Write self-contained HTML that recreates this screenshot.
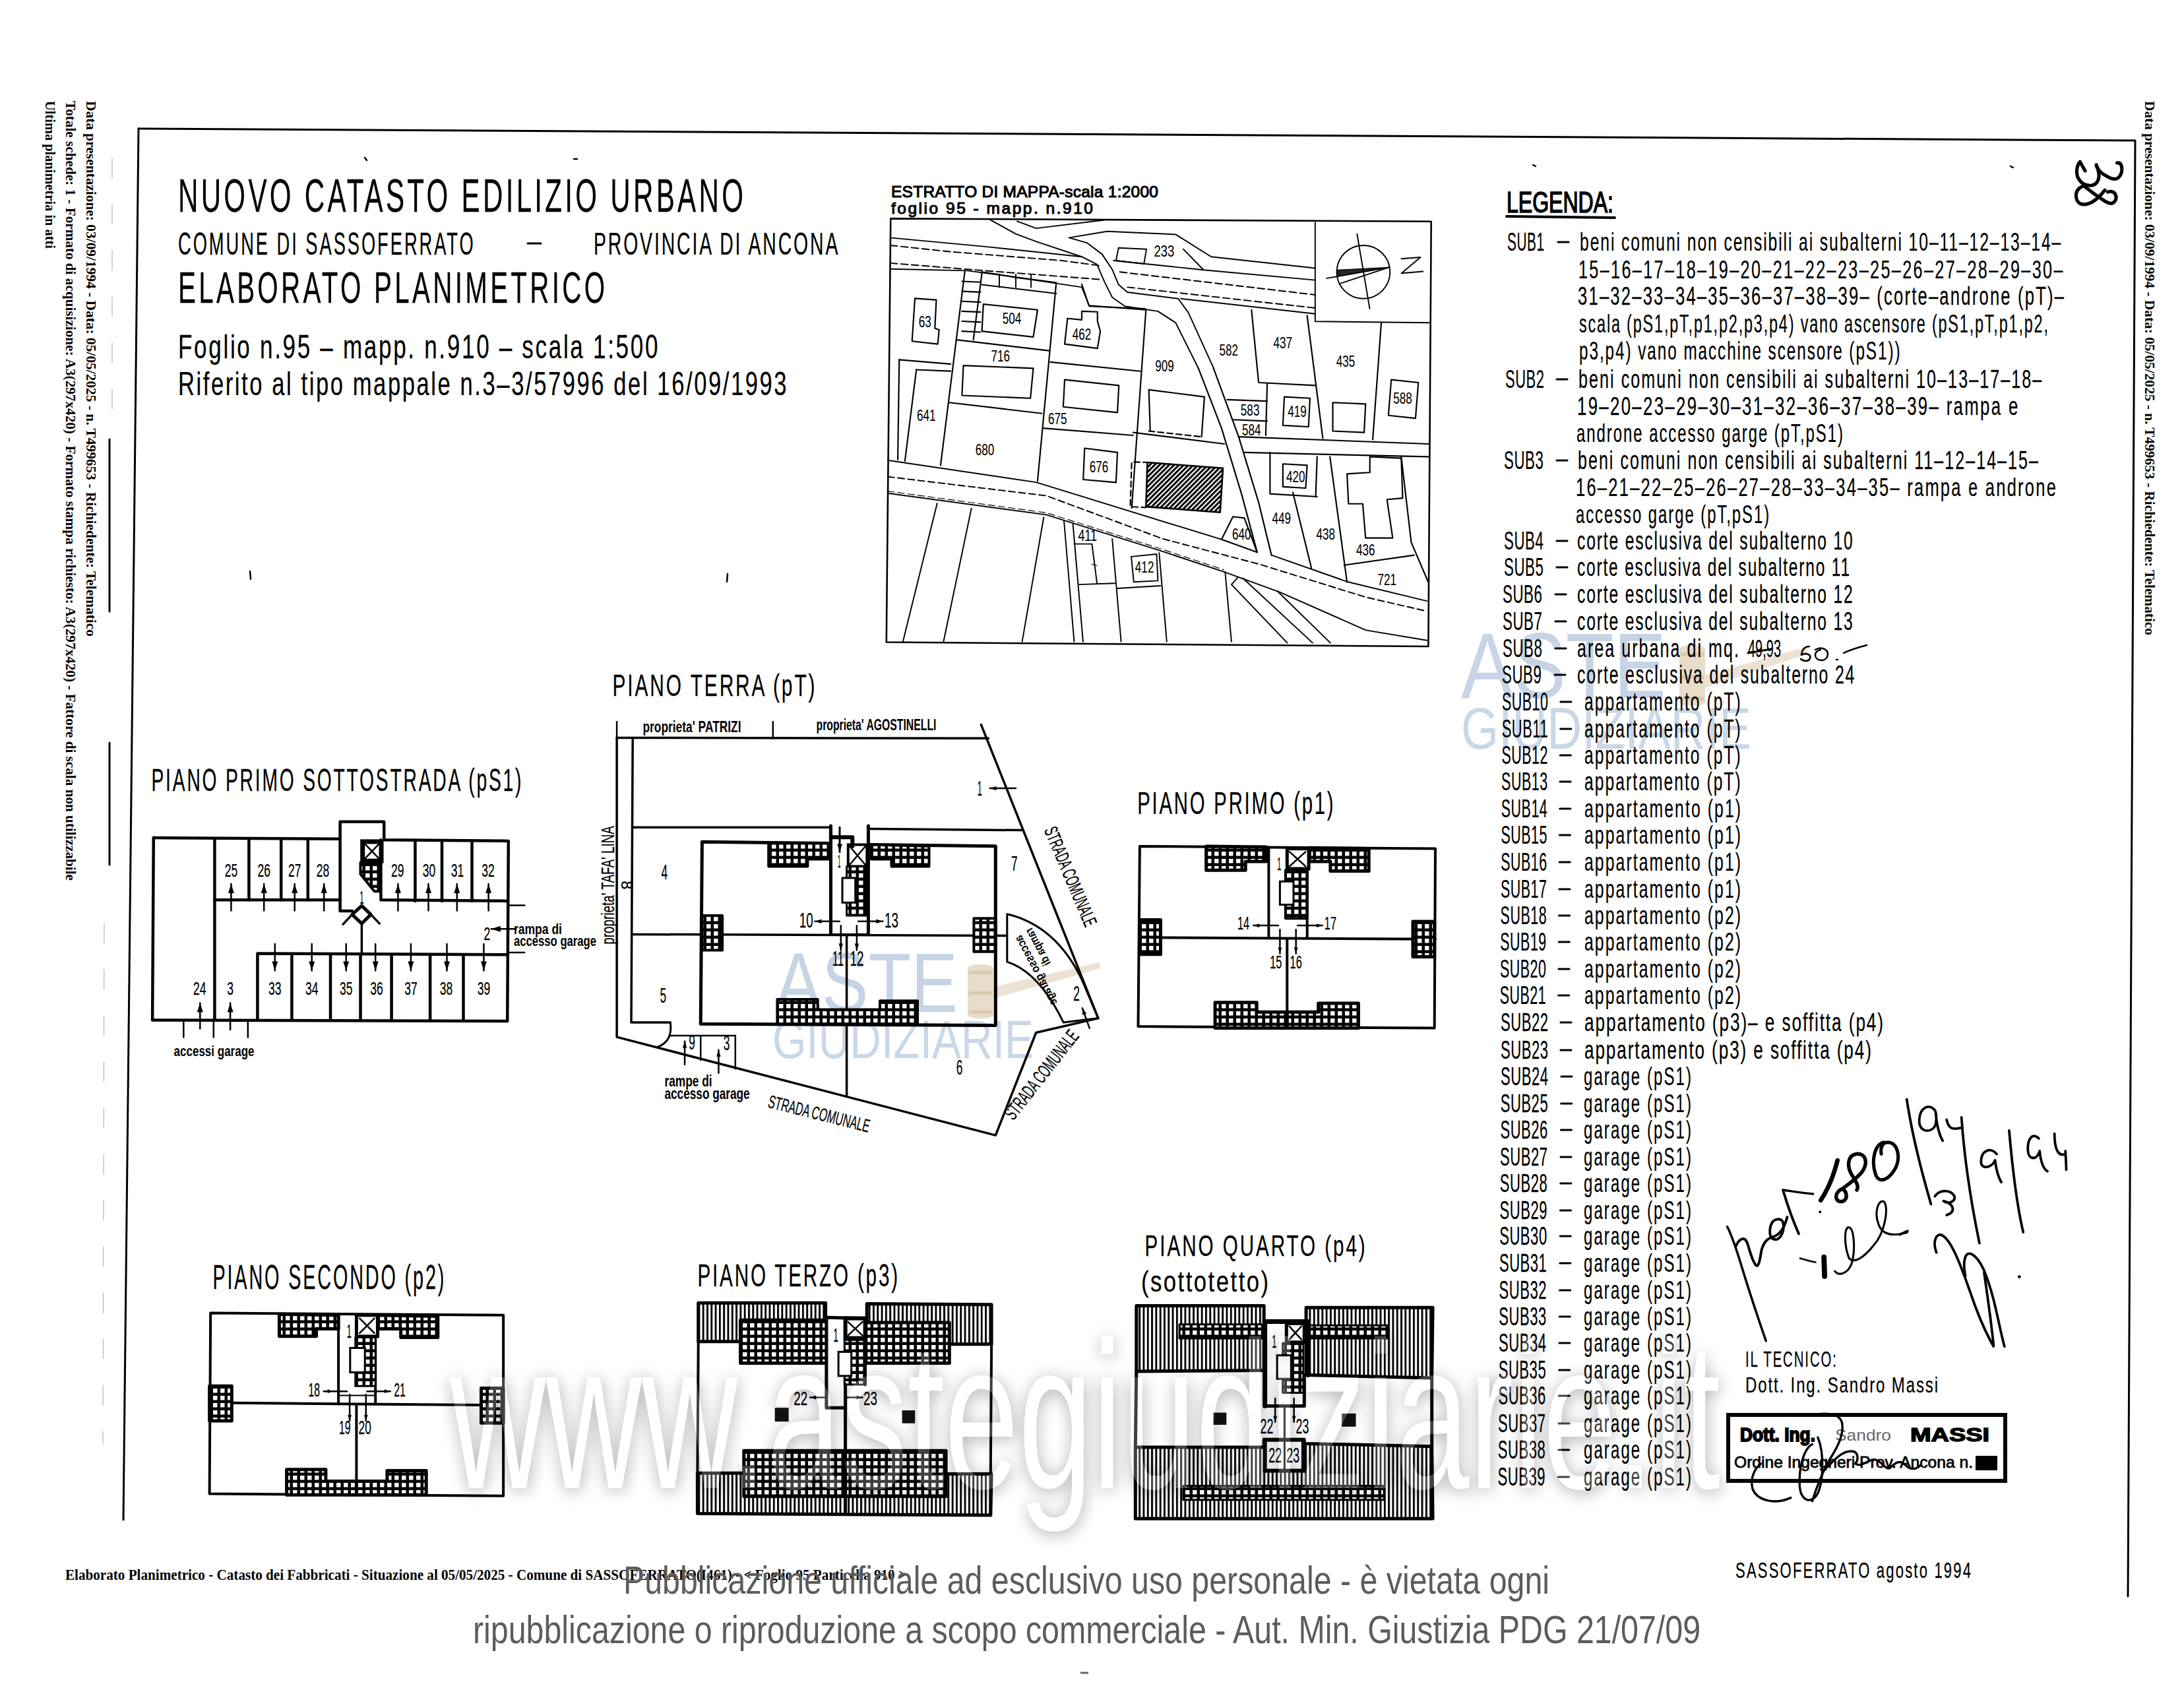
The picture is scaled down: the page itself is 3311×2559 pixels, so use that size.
<!DOCTYPE html>
<html><head><meta charset="utf-8"><title>Elaborato Planimetrico</title>
<style>
    html,body{margin:0;padding:0;background:#fff;overflow:hidden;}
    svg{display:block;}
    .c{font-family:"Liberation Sans",sans-serif;fill:#000;stroke:#000;stroke-width:0.25px;}
    .sr{font-family:"Liberation Serif",serif;fill:#000;font-weight:bold;}
    .sb{font-family:"Liberation Serif",serif;fill:#000;font-weight:bold;}
    .sbs{font-family:"Liberation Sans",sans-serif;fill:#000;font-weight:bold;}
    .c2{font-family:"Liberation Sans",sans-serif;fill:#000;}
    .cb{font-family:"Liberation Sans",sans-serif;fill:#000;font-weight:bold;}
    .gs{font-family:"Liberation Sans",sans-serif;fill:#666;}
    .cs{font-family:"Liberation Sans",sans-serif;fill:#000;stroke:#000;stroke-width:0.8px;}
    .g{font-family:"Liberation Sans",sans-serif;fill:#5c5c5c;}
    .ln{fill:none;stroke:#000;stroke-linecap:round;stroke-linejoin:round;}
    </style></head>
<body>
<svg width="3311" height="2559" viewBox="0 0 3311 2559">
<rect width="3311" height="2559" fill="#fff"/>
<defs>
<pattern id="hatch" patternUnits="userSpaceOnUse" width="12" height="12" patternTransform="rotate(45)">
<rect width="12" height="12" fill="#fff"/><rect width="7" height="12" fill="#000"/></pattern>
<pattern id="grid" patternUnits="userSpaceOnUse" width="11" height="11">
<rect width="11" height="11" fill="#000"/><rect x="4" y="4" width="6.5" height="6.5" fill="#fff"/></pattern>
<pattern id="stripe" patternUnits="userSpaceOnUse" width="6.3" height="7">
<rect width="6.3" height="7" fill="#fff"/><rect width="2.9" height="7" fill="#000"/></pattern>
</defs>
<text x="2215" y="1058" font-size="141.1" textLength="311" lengthAdjust="spacingAndGlyphs" style="font-family:'Liberation Sans',sans-serif;fill:#bccde0;fill-opacity:0.85">ASTE</text>
<text x="2215" y="1135" font-size="89.4" textLength="440" lengthAdjust="spacingAndGlyphs" style="font-family:'Liberation Sans',sans-serif;fill:#bccde0;fill-opacity:0.8">GIUDIZIARIE</text>
<path d="M2585,1023.6 L2740,980.3 L2740,991.4 L2585,1042.9 Z" style="fill:#dcc9ad;fill-opacity:0.55"/>
<rect x="2546" y="978" width="39" height="92" rx="17.6" ry="6" style="fill:#dcc9ad;fill-opacity:0.65"/>
<rect x="2548" y="989.0" width="35" height="5.5" style="fill:#c9b08e;fill-opacity:0.45"/>
<rect x="2548" y="1024.0" width="35" height="5.5" style="fill:#c9b08e;fill-opacity:0.45"/>
<rect x="2548" y="1056.2" width="35" height="5.5" style="fill:#c9b08e;fill-opacity:0.45"/>
<text x="1175" y="1534" font-size="127.1" textLength="277" lengthAdjust="spacingAndGlyphs" style="font-family:'Liberation Sans',sans-serif;fill:#bccde0;fill-opacity:0.85">ASTE</text>
<text x="1171" y="1604" font-size="81.0" textLength="396" lengthAdjust="spacingAndGlyphs" style="font-family:'Liberation Sans',sans-serif;fill:#bccde0;fill-opacity:0.8">GIUDIZIARIE</text>
<path d="M1506,1496.3 L1667,1458.7 L1667,1468.6 L1506,1513.5 Z" style="fill:#dcc9ad;fill-opacity:0.55"/>
<rect x="1467" y="1462" width="39" height="82" rx="17.6" ry="6" style="fill:#dcc9ad;fill-opacity:0.65"/>
<rect x="1469" y="1471.8" width="35" height="4.9" style="fill:#c9b08e;fill-opacity:0.45"/>
<rect x="1469" y="1503.0" width="35" height="4.9" style="fill:#c9b08e;fill-opacity:0.45"/>
<rect x="1469" y="1531.7" width="35" height="4.9" style="fill:#c9b08e;fill-opacity:0.45"/>
<path d="M210,195 L3237,213 L3226,2420" class="ln" stroke-width="3"/>
<path d="M210,195 L187,2304" class="ln" stroke-width="3"/>
<path d="M166,666 L166,927 M166,1126 L166,1311" class="ln" stroke-width="3"/>
<path d="M170,240 L170,640 M158,1400 L156,2190" class="ln" stroke-width="1" stroke-dasharray="30 40" opacity="0.35"/>
<path d="M553,239 L556,243 M870,241 L875,241 M379,866 L380,878 M1103,870 L1102,882 M2324,250 L2328,252 M3048,252 L3052,254" class="ln" stroke-width="2.5"/>
<text class="sr" transform="translate(131,153) rotate(90)" font-size="21" textLength="812" lengthAdjust="spacingAndGlyphs">Data presentazione: 03/09/1994 - Data: 05/05/2025 - n. T499653 - Richiedente: Telematico</text>
<text class="sr" transform="translate(100,153) rotate(90)" font-size="21" textLength="1182" lengthAdjust="spacingAndGlyphs">Totale schede: 1 - Formato di acquisizione: A3(297x420) - Formato stampa richiesto: A3(297x420) - Fattore di scala non utilizzabile</text>
<text class="sr" transform="translate(69,153) rotate(90)" font-size="21" textLength="224" lengthAdjust="spacingAndGlyphs">Ultima planimetria in atti</text>
<text class="sr" transform="translate(3252,153) rotate(90)" font-size="21" textLength="810" lengthAdjust="spacingAndGlyphs">Data presentazione: 03/09/1994 - Data: 05/05/2025 - n. T499653 - Richiedente: Telematico</text>
<text class="c" transform="translate(270.0,321.0) scale(0.593,1)" x="0" y="0" font-size="71.0" textLength="1445.0" lengthAdjust="spacing">NUOVO CATASTO EDILIZIO URBANO</text>
<text class="c" transform="translate(270.0,386.0) scale(0.556,1)" x="0" y="0" font-size="49.0" textLength="805.2" lengthAdjust="spacing">COMUNE DI SASSOFERRATO</text>
<path d="M800,369 L820,369" class="ln" stroke-width="3"/>
<text class="c" transform="translate(900.0,386.0) scale(0.579,1)" x="0" y="0" font-size="49.0" textLength="639.6" lengthAdjust="spacing">PROVINCIA DI ANCONA</text>
<text class="c" transform="translate(270.0,459.0) scale(0.611,1)" x="0" y="0" font-size="66.0" textLength="1059.0" lengthAdjust="spacing">ELABORATO PLANIMETRICO</text>
<text class="c" transform="translate(270.0,543.0) scale(0.701,1)" x="0" y="0" font-size="50.0" textLength="1037.7" lengthAdjust="spacing">Foglio n.95 – mapp. n.910 – scala 1:500</text>
<text class="c" transform="translate(270.0,599.0) scale(0.691,1)" x="0" y="0" font-size="50.0" textLength="1335.1" lengthAdjust="spacing">Riferito al tipo mappale n.3–3/57996 del 16/09/1993</text>
<text class="c" style="stroke-width:1.1px" transform="translate(1351.0,299.0) scale(1.000,1)" x="0" y="0" font-size="24.5" textLength="405.0" lengthAdjust="spacing">ESTRATTO DI MAPPA-scala 1:2000</text>
<text class="c" style="stroke-width:1.1px" transform="translate(1351.0,324.0) scale(1.000,1)" x="0" y="0" font-size="24.5" textLength="306.0" lengthAdjust="spacing">foglio 95 - mapp. n.910</text>
<g transform="translate(1320,260) scale(0.432432)">
<path d="M70,165 L1965,175 L1955,1665 L55,1650Z" class="ln" stroke-width="6"/>
<path d="M330,350 L300,590 L245,1030" class="ln" stroke-width="5"/>
<path d="M390,355 L360,590" class="ln" stroke-width="5"/>
<path d="M320,385 L385,388" class="ln" stroke-width="5"/>
<path d="M320,420 L385,423" class="ln" stroke-width="5"/>
<path d="M320,455 L385,458" class="ln" stroke-width="5"/>
<path d="M320,490 L385,493" class="ln" stroke-width="5"/>
<path d="M320,525 L385,528" class="ln" stroke-width="5"/>
<path d="M320,560 L385,563" class="ln" stroke-width="5"/>
<path d="M650,395 L585,1085" class="ln" stroke-width="5"/>
<path d="M300,590 L625,628" class="ln" stroke-width="5"/>
<path d="M275,810 L600,848" class="ln" stroke-width="5"/>
<path d="M100,660 L280,675" class="ln" stroke-width="5"/>
<path d="M100,660 L95,1010" class="ln" stroke-width="5"/>
<path d="M160,695 L280,700" class="ln" stroke-width="5"/>
<path d="M160,695 L120,1015" class="ln" stroke-width="5"/>
<path d="M155,445 L230,450 L225,550 L240,555 L235,605 L145,595Z" class="ln" stroke-width="5"/>
<path d="M395,465 L585,485 L570,580 L390,560Z" class="ln" stroke-width="5"/>
<path d="M690,515 L740,520 L740,490 L795,492 L795,525 L805,560 L795,620 L680,605Z" class="ln" stroke-width="5"/>
<path d="M325,680 L570,690 L560,795 L320,785Z" class="ln" stroke-width="5"/>
<path d="M740,395 L765,470 L965,485" class="ln" stroke-width="5"/>
<path d="M965,485 L915,1180" class="ln" stroke-width="5"/>
<path d="M630,668 L945,700" class="ln" stroke-width="5"/>
<path d="M605,900 L920,925" class="ln" stroke-width="5"/>
<path d="M680,730 L870,750 L865,845 L675,825Z" class="ln" stroke-width="5"/>
<path d="M750,970 L865,985 L860,1090 L745,1080Z" class="ln" stroke-width="5"/>
<path d="M980,910 L975,765 L1170,790 L1160,930" class="ln" stroke-width="5"/>
<path d="M975,910 L1160,930" class="ln" stroke-width="5" stroke-dasharray="20 12"/>
<path d="M920,915 L1240,955" class="ln" stroke-width="5"/>
<path d="M970,1020 L1235,1040 L1225,1195 L965,1175Z" class="ln" stroke-width="6" style="fill:url(#hatch)"/>
<path d="M975,1020 L915,1018 L910,1175 L965,1178" class="ln" stroke-width="5" stroke-dasharray="20 12"/>
<path d="M1149,690 L1230,900 L1300,1130 L1355,1335" class="ln" stroke-width="5"/>
<path d="M1202,690 L1290,930 L1360,1160 L1405,1345" class="ln" stroke-width="5"/>
<path d="M1230,1290 L1270,1210 L1310,1215 L1355,1335Z" class="ln" stroke-width="5"/>
<path d="M1335,485 L1360,740 L1560,750" class="ln" stroke-width="5"/>
<path d="M1530,505 L1585,935" class="ln" stroke-width="5"/>
<path d="M1790,530 L1760,940" class="ln" stroke-width="5"/>
<path d="M1250,800 L1390,805" class="ln" stroke-width="5"/>
<path d="M1270,870 L1390,875" class="ln" stroke-width="5"/>
<path d="M1390,745 L1385,925" class="ln" stroke-width="5"/>
<path d="M1450,790 L1540,795 L1535,895 L1445,890Z" class="ln" stroke-width="5"/>
<path d="M1620,810 L1735,815 L1730,915 L1620,910Z" class="ln" stroke-width="5"/>
<path d="M1825,730 L1920,740 L1910,865 L1815,855Z" class="ln" stroke-width="5"/>
<path d="M1290,930 L1955,955" class="ln" stroke-width="5"/>
<path d="M1310,985 L1955,1000" class="ln" stroke-width="5"/>
<path d="M1400,985 L1400,1130 L1565,1140" class="ln" stroke-width="5"/>
<path d="M1565,1000 L1560,1140" class="ln" stroke-width="5"/>
<path d="M1445,1025 L1530,1030 L1525,1110 L1445,1105Z" class="ln" stroke-width="5"/>
<path d="M1480,1125 L1545,1390" class="ln" stroke-width="5"/>
<path d="M1610,1000 L1670,1440" class="ln" stroke-width="5"/>
<path d="M1860,1000 L1895,1300 L1955,1440" class="ln" stroke-width="5"/>
<path d="M1670,1060 L1750,1055 L1750,1000 L1860,1005 L1865,1145 L1810,1150 L1830,1285 L1735,1285 L1725,1165 L1675,1165Z" class="ln" stroke-width="5"/>
<path d="M1660,1380 L1905,1345" class="ln" stroke-width="5"/>
<text class="c" x="190" y="545" font-size="56" text-anchor="middle" textLength="44" lengthAdjust="spacingAndGlyphs">63</text>
<text class="c" x="495" y="535" font-size="56" text-anchor="middle" textLength="66" lengthAdjust="spacingAndGlyphs">504</text>
<text class="c" x="740" y="590" font-size="56" text-anchor="middle" textLength="66" lengthAdjust="spacingAndGlyphs">462</text>
<text class="c" x="455" y="665" font-size="56" text-anchor="middle" textLength="66" lengthAdjust="spacingAndGlyphs">716</text>
<text class="c" x="195" y="875" font-size="56" text-anchor="middle" textLength="66" lengthAdjust="spacingAndGlyphs">641</text>
<text class="c" x="400" y="995" font-size="56" text-anchor="middle" textLength="66" lengthAdjust="spacingAndGlyphs">680</text>
<text class="c" x="655" y="885" font-size="56" text-anchor="middle" textLength="66" lengthAdjust="spacingAndGlyphs">675</text>
<text class="c" x="800" y="1055" font-size="56" text-anchor="middle" textLength="66" lengthAdjust="spacingAndGlyphs">676</text>
<text class="c" x="1030" y="700" font-size="56" text-anchor="middle" textLength="66" lengthAdjust="spacingAndGlyphs">909</text>
<text class="c" x="1255" y="645" font-size="56" text-anchor="middle" textLength="66" lengthAdjust="spacingAndGlyphs">582</text>
<text class="c" x="1445" y="620" font-size="56" text-anchor="middle" textLength="66" lengthAdjust="spacingAndGlyphs">437</text>
<text class="c" x="1665" y="685" font-size="56" text-anchor="middle" textLength="66" lengthAdjust="spacingAndGlyphs">435</text>
<text class="c" x="1330" y="855" font-size="56" text-anchor="middle" textLength="66" lengthAdjust="spacingAndGlyphs">583</text>
<text class="c" x="1335" y="925" font-size="56" text-anchor="middle" textLength="66" lengthAdjust="spacingAndGlyphs">584</text>
<text class="c" x="1495" y="860" font-size="56" text-anchor="middle" textLength="66" lengthAdjust="spacingAndGlyphs">419</text>
<text class="c" x="1865" y="815" font-size="56" text-anchor="middle" textLength="66" lengthAdjust="spacingAndGlyphs">588</text>
<text class="c" x="1490" y="1090" font-size="56" text-anchor="middle" textLength="66" lengthAdjust="spacingAndGlyphs">420</text>
<text class="c" x="1440" y="1235" font-size="56" text-anchor="middle" textLength="66" lengthAdjust="spacingAndGlyphs">449</text>
<text class="c" x="1595" y="1290" font-size="56" text-anchor="middle" textLength="66" lengthAdjust="spacingAndGlyphs">438</text>
<text class="c" x="1735" y="1345" font-size="56" text-anchor="middle" textLength="66" lengthAdjust="spacingAndGlyphs">436</text>
<text class="c" x="1810" y="1450" font-size="56" text-anchor="middle" textLength="66" lengthAdjust="spacingAndGlyphs">721</text>
<text class="c" x="1300" y="1290" font-size="56" text-anchor="middle" textLength="66" lengthAdjust="spacingAndGlyphs">640</text>
<text class="c" x="760" y="1295" font-size="56" text-anchor="middle" textLength="66" lengthAdjust="spacingAndGlyphs">411</text>
<text class="c" x="960" y="1405" font-size="56" text-anchor="middle" textLength="66" lengthAdjust="spacingAndGlyphs">412</text>
</g>
<g transform="translate(1340,320) scale(0.384615)">
<path d="M25,105 L400,140 L780,180" class="ln" stroke-width="5"/>
<path d="M420,35 L520,90 L600,120 L780,180 L840,210 L870,280 L900,340 L950,375 L1080,395 L1150,440 L1240,620" class="ln" stroke-width="5"/>
<path d="M525,40 L600,68 L870,35" class="ln" stroke-width="5"/>
<path d="M730,105 L880,80 L1150,92 L1290,180 L1700,225" class="ln" stroke-width="5"/>
<path d="M730,105 L800,125 L860,170 L900,230 L925,290 L960,320 L1160,345 L1200,400 L1300,620" class="ln" stroke-width="5"/>
<path d="M905,195 L1260,232 L1700,272" class="ln" stroke-width="5"/>
<path d="M1180,150 L1260,232" class="ln" stroke-width="5"/>
<path d="M25,135 L260,160 L700,195 L850,215" class="ln" stroke-width="5" stroke-dasharray="28 14"/>
<path d="M930,240 L1700,330" class="ln" stroke-width="5" stroke-dasharray="28 14"/>
<path d="M25,205 L400,235 L860,270" class="ln" stroke-width="5" stroke-dasharray="28 14"/>
<path d="M960,300 L1700,382" class="ln" stroke-width="5" stroke-dasharray="28 14"/>
<path d="M25,228 L330,235 L680,282" class="ln" stroke-width="5"/>
<path d="M1170,345 L1700,405" class="ln" stroke-width="5"/>
<path d="M385,240 L455,250 L520,262 L580,270 L680,285" class="ln" stroke-width="5"/>
<path d="M385,290 L680,325" class="ln" stroke-width="5"/>
<path d="M455,250 L455,300" class="ln" stroke-width="5"/>
<path d="M520,250 L520,300" class="ln" stroke-width="5"/>
<path d="M580,250 L580,300" class="ln" stroke-width="5"/>
<path d="M680,285 L780,300 L810,375 L1030,385" class="ln" stroke-width="5"/>
<path d="M925,145 L1035,150 L1025,208 L915,195Z" class="ln" stroke-width="5"/>
<text class="c" x="1105" y="180" font-size="60" text-anchor="middle" textLength="80" lengthAdjust="spacingAndGlyphs">233</text>
<path d="M1700,45 L1700,435 L2150,440" class="ln" stroke-width="5"/>
<circle cx="1890" cy="240" r="105" class="ln" stroke-width="5"/>
<path d="M1865,90 L1915,385" class="ln" stroke-width="5"/>
<path d="M1745,265 L1990,222" class="ln" stroke-width="5"/>
<path d="M1800,285 L1990,222" class="ln" stroke-width="5"/>
<path d="M1785,232 L1990,222 L1785,258Z" class="ln" stroke-width="3" style="fill:#000;fill-opacity:0.85"/>
<path d="M2040,188 L2115,182 L2040,245 L2125,238" class="ln" stroke-width="5"/>
</g>
<g transform="translate(1340,640) scale(0.384615)">
<path d="M15,150 L600,237 L1330,462" class="ln" stroke-width="5"/>
<path d="M1530,525 L1830,630 L2140,705" class="ln" stroke-width="5"/>
<path d="M15,215 L640,290 L1100,460 L1480,560 L1900,690 L2140,745" class="ln" stroke-width="5" stroke-dasharray="26 14"/>
<path d="M15,280 L640,365 L1100,510 L1340,590 L1560,670 L1900,820 L2140,860" class="ln" stroke-width="5"/>
<path d="M15,272 L640,357 L1100,502 L1340,582" class="ln" stroke-width="3" stroke-dasharray="26 14"/>
<path d="M1370,640 L1590,870" class="ln" stroke-width="5"/>
<path d="M1415,615 L1690,870" class="ln" stroke-width="5"/>
<path d="M1550,665 L1760,870" class="ln" stroke-width="5"/>
<path d="M1370,640 L1395,612" class="ln" stroke-width="5"/>
<path d="M210,320 L75,865" class="ln" stroke-width="5"/>
<path d="M345,340 L235,865" class="ln" stroke-width="5"/>
<path d="M630,375 L545,865" class="ln" stroke-width="5"/>
<path d="M710,390 L750,865" class="ln" stroke-width="5"/>
<path d="M745,400 L785,865" class="ln" stroke-width="5"/>
<path d="M900,460 L935,865" class="ln" stroke-width="5"/>
<path d="M1085,515 L1115,865" class="ln" stroke-width="5"/>
<path d="M1345,590 L1370,865" class="ln" stroke-width="5"/>
<path d="M750,480 L820,480 L840,635" class="ln" stroke-width="5"/>
<path d="M770,640 L910,635" class="ln" stroke-width="5"/>
<path d="M920,655 L1090,645" class="ln" stroke-width="5"/>
<path d="M975,530 L1075,520 L1080,625 L985,630Z" class="ln" stroke-width="5"/>
<path d="M820,560 L840,565" class="ln" stroke-width="3"/>
</g>
<text class="c" transform="translate(229.5,1198.5) scale(0.591,1)" x="0" y="0" font-size="47.7" textLength="949.2" lengthAdjust="spacing">PIANO PRIMO SOTTOSTRADA (pS1)</text>
<path d="M232.8,1270.0 L515.6,1271.7" class="ln" stroke-width="4.5"/>
<path d="M533.8,1380.9 L515.6,1380.9 L515.6,1245.7 L582.2,1245.7 L582.2,1273.3 L770.8,1274.9 L769.2,1548.0 L231.1,1546.4 L232.8,1270.0" class="ln" stroke-width="4.5"/>
<path d="M325.4,1271.7 L325.4,1546.4" class="ln" stroke-width="4.5"/>
<path d="M325.4,1364.3 L515.6,1364.3" class="ln" stroke-width="4.5"/>
<path d="M377.4,1271.7 L377.4,1364.3" class="ln" stroke-width="4.5"/>
<path d="M426.2,1271.7 L426.2,1364.3" class="ln" stroke-width="4.5"/>
<path d="M466.8,1271.7 L466.8,1364.3" class="ln" stroke-width="4.5"/>
<path d="M577.4,1273.3 L577.4,1364.3 L769.2,1365.9" class="ln" stroke-width="4.5"/>
<path d="M629.4,1274.9 L629.4,1365.9" class="ln" stroke-width="4.5"/>
<path d="M670.0,1274.9 L670.0,1365.9" class="ln" stroke-width="4.5"/>
<path d="M715.5,1274.9 L715.5,1365.9" class="ln" stroke-width="4.5"/>
<path d="M390.4,1546.4 L390.4,1445.6 L769.2,1447.2" class="ln" stroke-width="4.5"/>
<path d="M442.4,1447.2 L442.4,1546.4" class="ln" stroke-width="4.5"/>
<path d="M501.0,1447.2 L501.0,1546.4" class="ln" stroke-width="4.5"/>
<path d="M546.5,1447.2 L546.5,1546.4" class="ln" stroke-width="4.5"/>
<path d="M593.6,1447.2 L593.6,1546.4" class="ln" stroke-width="4.5"/>
<path d="M652.1,1447.2 L652.1,1546.4" class="ln" stroke-width="4.5"/>
<path d="M702.5,1447.2 L702.5,1546.4" class="ln" stroke-width="4.5"/>
<path d="M548.4,1400.1 L548.4,1445.6" class="ln" stroke-width="3.5"/>
<rect x="549.7" y="1275.9" width="28.3" height="29.3" style="fill:#fff" stroke="#000" stroke-width="7"/>
<path d="M553.0,1279.1 L574.8,1301.9" class="ln" stroke-width="2.5"/>
<path d="M574.8,1279.1 L553.0,1301.9" class="ln" stroke-width="2.5"/>
<path d="M546.5,1307.4 L575.7,1307.4 L575.7,1351.3 L567.6,1351.3 L546.5,1325.3Z" style="fill:url(#grid)" stroke="#000" stroke-width="4" stroke-linejoin="round"/>
<path d="M548.4,1373.1 L562.1,1386.4 L548.4,1400.1 L533.8,1386.4Z" class="ln" stroke-width="5"/>
<path d="M520.1,1401.1 L533.8,1386.4" class="ln" stroke-width="3.5"/>
<path d="M562.1,1386.4 L575.4,1400.1" class="ln" stroke-width="3.5"/>
<text class="c" x="548.4" y="1369.8" font-size="27.2" text-anchor="middle" textLength="5.9" lengthAdjust="spacingAndGlyphs">1</text>
<text class="c" x="350.4" y="1328.6" font-size="27.2" text-anchor="middle" textLength="19.5" lengthAdjust="spacingAndGlyphs">25</text>
<text class="c" x="400.2" y="1328.6" font-size="27.2" text-anchor="middle" textLength="19.5" lengthAdjust="spacingAndGlyphs">26</text>
<text class="c" x="446.7" y="1328.6" font-size="27.2" text-anchor="middle" textLength="19.5" lengthAdjust="spacingAndGlyphs">27</text>
<text class="c" x="489.6" y="1328.6" font-size="27.2" text-anchor="middle" textLength="19.5" lengthAdjust="spacingAndGlyphs">28</text>
<text class="c" x="602.7" y="1328.6" font-size="27.2" text-anchor="middle" textLength="19.5" lengthAdjust="spacingAndGlyphs">29</text>
<text class="c" x="650.5" y="1328.6" font-size="27.2" text-anchor="middle" textLength="19.5" lengthAdjust="spacingAndGlyphs">30</text>
<text class="c" x="693.4" y="1328.6" font-size="27.2" text-anchor="middle" textLength="19.5" lengthAdjust="spacingAndGlyphs">31</text>
<text class="c" x="739.9" y="1328.6" font-size="27.2" text-anchor="middle" textLength="19.5" lengthAdjust="spacingAndGlyphs">32</text>
<text class="c" x="302.7" y="1508.0" font-size="27.2" text-anchor="middle" textLength="19.5" lengthAdjust="spacingAndGlyphs">24</text>
<text class="c" x="349.1" y="1508.0" font-size="27.2" text-anchor="middle" textLength="9.8" lengthAdjust="spacingAndGlyphs">3</text>
<text class="c" x="416.8" y="1508.0" font-size="27.2" text-anchor="middle" textLength="19.5" lengthAdjust="spacingAndGlyphs">33</text>
<text class="c" x="472.7" y="1508.0" font-size="27.2" text-anchor="middle" textLength="19.5" lengthAdjust="spacingAndGlyphs">34</text>
<text class="c" x="524.7" y="1508.0" font-size="27.2" text-anchor="middle" textLength="19.5" lengthAdjust="spacingAndGlyphs">35</text>
<text class="c" x="570.9" y="1508.0" font-size="27.2" text-anchor="middle" textLength="19.5" lengthAdjust="spacingAndGlyphs">36</text>
<text class="c" x="622.9" y="1508.0" font-size="27.2" text-anchor="middle" textLength="19.5" lengthAdjust="spacingAndGlyphs">37</text>
<text class="c" x="676.5" y="1508.0" font-size="27.2" text-anchor="middle" textLength="19.5" lengthAdjust="spacingAndGlyphs">38</text>
<text class="c" x="733.4" y="1508.0" font-size="27.2" text-anchor="middle" textLength="19.5" lengthAdjust="spacingAndGlyphs">39</text>
<path d="M350.4,1380.6 L350.4,1339.9" class="ln" stroke-width="2.5"/>
<path d="M350.4,1339.9 L354.9,1353.9 L346.0,1353.9Z" style="fill:#000"/>
<path d="M400.2,1380.6 L400.2,1339.9" class="ln" stroke-width="2.5"/>
<path d="M400.2,1339.9 L404.7,1353.9 L395.7,1353.9Z" style="fill:#000"/>
<path d="M446.7,1380.6 L446.7,1339.9" class="ln" stroke-width="2.5"/>
<path d="M446.7,1339.9 L451.2,1353.9 L442.2,1353.9Z" style="fill:#000"/>
<path d="M491.2,1380.6 L491.2,1339.9" class="ln" stroke-width="2.5"/>
<path d="M491.2,1339.9 L495.7,1353.9 L486.7,1353.9Z" style="fill:#000"/>
<path d="M603.4,1380.6 L603.4,1339.9" class="ln" stroke-width="2.5"/>
<path d="M603.4,1339.9 L607.8,1353.9 L598.9,1353.9Z" style="fill:#000"/>
<path d="M649.5,1380.6 L649.5,1339.9" class="ln" stroke-width="2.5"/>
<path d="M649.5,1339.9 L654.0,1353.9 L645.1,1353.9Z" style="fill:#000"/>
<path d="M692.8,1380.6 L692.8,1339.9" class="ln" stroke-width="2.5"/>
<path d="M692.8,1339.9 L697.2,1353.9 L688.3,1353.9Z" style="fill:#000"/>
<path d="M740.6,1380.6 L740.6,1339.9" class="ln" stroke-width="2.5"/>
<path d="M740.6,1339.9 L745.0,1353.9 L736.1,1353.9Z" style="fill:#000"/>
<path d="M416.8,1431.0 L416.8,1471.6" class="ln" stroke-width="2.5"/>
<path d="M416.8,1471.6 L412.3,1457.6 L421.2,1457.6Z" style="fill:#000"/>
<path d="M472.7,1431.0 L472.7,1471.6" class="ln" stroke-width="2.5"/>
<path d="M472.7,1471.6 L468.2,1457.6 L477.2,1457.6Z" style="fill:#000"/>
<path d="M524.7,1431.0 L524.7,1471.6" class="ln" stroke-width="2.5"/>
<path d="M524.7,1471.6 L520.2,1457.6 L529.2,1457.6Z" style="fill:#000"/>
<path d="M569.2,1431.0 L569.2,1471.6" class="ln" stroke-width="2.5"/>
<path d="M569.2,1471.6 L564.8,1457.6 L573.7,1457.6Z" style="fill:#000"/>
<path d="M622.9,1431.0 L622.9,1471.6" class="ln" stroke-width="2.5"/>
<path d="M622.9,1471.6 L618.4,1457.6 L627.4,1457.6Z" style="fill:#000"/>
<path d="M677.5,1431.0 L677.5,1471.6" class="ln" stroke-width="2.5"/>
<path d="M677.5,1471.6 L673.0,1457.6 L682.0,1457.6Z" style="fill:#000"/>
<path d="M733.4,1431.0 L733.4,1471.6" class="ln" stroke-width="2.5"/>
<path d="M733.4,1471.6 L728.9,1457.6 L737.9,1457.6Z" style="fill:#000"/>
<path d="M303.3,1559.4 L303.3,1520.4" class="ln" stroke-width="2.5"/>
<path d="M303.3,1520.4 L307.8,1534.4 L298.8,1534.4Z" style="fill:#000"/>
<path d="M349.1,1561.0 L349.1,1520.4" class="ln" stroke-width="2.5"/>
<path d="M349.1,1520.4 L353.6,1534.4 L344.7,1534.4Z" style="fill:#000"/>
<path d="M278.3,1546.4 L278.3,1572.4" class="ln" stroke-width="2.5"/>
<path d="M323.8,1546.4 L323.8,1572.4" class="ln" stroke-width="2.5"/>
<path d="M375.8,1546.4 L375.8,1572.4" class="ln" stroke-width="2.5"/>
<path d="M769.2,1372.4 L795.2,1372.4" class="ln" stroke-width="2.5"/>
<path d="M769.2,1444.0 L795.2,1444.0" class="ln" stroke-width="2.5"/>
<text class="c" x="738.3" y="1424.5" font-size="27.2" text-anchor="middle" textLength="9.8" lengthAdjust="spacingAndGlyphs">2</text>
<path d="M782.2,1408.2 L744.8,1408.2" class="ln" stroke-width="2.5"/>
<path d="M744.8,1408.2 L758.8,1403.7 L758.8,1412.7Z" style="fill:#000"/>
<text class="cb" x="778.9" y="1416.3" font-size="21.8" textLength="73.1" lengthAdjust="spacingAndGlyphs">rampa di</text>
<text class="cb" x="778.9" y="1434.2" font-size="21.8" textLength="125.2" lengthAdjust="spacingAndGlyphs">accesso garage</text>
<text class="cb" x="263.6" y="1601.0" font-size="21.8" textLength="121.9" lengthAdjust="spacingAndGlyphs">accessi garage</text>
<text class="c" transform="translate(928.5,1054.8) scale(0.651,1)" x="0" y="0" font-size="45.9" textLength="471.6" lengthAdjust="spacing">PIANO TERRA (pT)</text>
<text class="cb" x="974.5" y="1109.6" font-size="23.3" textLength="149.0" lengthAdjust="spacingAndGlyphs">proprieta&#x27; PATRIZI</text>
<text class="cb" x="1237.5" y="1107.4" font-size="23.3" textLength="181.9" lengthAdjust="spacingAndGlyphs">proprieta&#x27; AGOSTINELLI</text>
<path d="M935.1,1094.2 L935.1,1118.4" class="ln" stroke-width="2.5"/>
<path d="M1171.8,1094.2 L1171.8,1119.2" class="ln" stroke-width="2.5"/>
<path d="M935.1,1118.4 L1498.4,1119.2" class="ln" stroke-width="3.5"/>
<path d="M1487.4,1098.6 L1664.9,1543.6" class="ln" stroke-width="3.5"/>
<path d="M935.1,1118.4 L935.1,1572.1 L1509.3,1721.1 L1570.7,1565.5 L1664.9,1543.6" class="ln" stroke-width="3.5"/>
<path d="M959.2,1120.5 L957.0,1550.1 L1016.2,1550.1" class="ln" stroke-width="3.5"/>
<path d="M1016.2,1550.1 Q1020.5,1578.6 996.4,1587.4" class="ln" stroke-width="3"/>
<path d="M959.2,1254.2 L1257.3,1254.2" class="ln" stroke-width="3.5"/>
<path d="M1318.6,1256.4 L1548.8,1258.6" class="ln" stroke-width="3.5"/>
<path d="M959.2,1416.4 L1526.8,1418.6" class="ln" stroke-width="3.5"/>
<path d="M1283.6,1418.6 L1283.6,1661.9" class="ln" stroke-width="3.5"/>
<path d="M1526.8,1385.8 L1526.8,1458.1 Q1575.1,1473.4 1612.3,1550.1 L1664.9,1543.6 L1640.8,1486.6 Q1601.4,1403.3 1526.8,1385.8 Z" class="ln" stroke-width="3"/>
<path d="M1509.3,1418.6 L1526.8,1418.6" class="ln" stroke-width="2.5"/>
<path d="M1257.3,1278.4 L1064.4,1276.2 L1062.2,1552.3 L1509.3,1554.5 L1509.3,1282.7 L1318.6,1280.5" class="ln" stroke-width="5"/>
<path d="M1259.5,1252.1 L1259.5,1416.4" class="ln" stroke-width="5"/>
<path d="M1316.4,1252.1 L1316.4,1416.4" class="ln" stroke-width="5"/>
<path d="M1259.5,1416.4 L1316.4,1416.4" class="ln" stroke-width="3"/>
<rect x="1285.8" y="1280.5" width="28.5" height="32.9" style="fill:#fff" stroke="#000" stroke-width="4"/>
<path d="M1287.9,1282.7 L1312.1,1311.2" class="ln" stroke-width="2.5"/>
<path d="M1312.1,1282.7 L1287.9,1311.2" class="ln" stroke-width="2.5"/>
<path d="M1283.6,1313.4 L1314.2,1313.4 L1314.2,1387.9 L1283.6,1387.9Z" style="fill:url(#grid)" stroke="#000" stroke-width="3" stroke-linejoin="round"/>
<rect x="1277.0" y="1331.0" width="19.7" height="37.3" style="fill:#fff" stroke="#000" stroke-width="3"/>
<path d="M1273.0,1254.2 L1273.0,1291.5" class="ln" stroke-width="3"/>
<path d="M1273.0,1291.5 L1269.2,1279.5 L1276.9,1279.5Z" style="fill:#000"/>
<path d="M1259.5,1269.2 L1292.3,1269.2 L1292.3,1282.7" class="ln" stroke-width="6"/>
<text class="c" x="1272.2" y="1314.7" font-size="27.6" text-anchor="middle" textLength="4.4" lengthAdjust="spacingAndGlyphs">1</text>
<path d="M1165.2,1278.4 L1257.3,1278.4 L1257.3,1302.5 L1224.4,1302.5 L1224.4,1313.4 L1165.2,1313.4Z" style="fill:url(#grid)" stroke="#000" stroke-width="4" stroke-linejoin="round"/>
<path d="M1320.8,1280.5 L1408.5,1282.7 L1408.5,1313.4 L1351.5,1313.4 L1351.5,1302.5 L1320.8,1302.5Z" style="fill:url(#grid)" stroke="#000" stroke-width="4" stroke-linejoin="round"/>
<path d="M1064.4,1387.9 L1095.1,1387.9 L1095.1,1440.5 L1064.4,1440.5Z" style="fill:url(#grid)" stroke="#000" stroke-width="4" stroke-linejoin="round"/>
<path d="M1476.4,1392.3 L1509.3,1392.3 L1509.3,1442.7 L1476.4,1442.7Z" style="fill:url(#grid)" stroke="#000" stroke-width="4" stroke-linejoin="round"/>
<path d="M1178.4,1515.1 L1239.7,1515.1 L1239.7,1530.4 L1334.0,1530.4 L1334.0,1517.3 L1391.0,1517.3 L1391.0,1552.3 L1178.4,1552.3Z" style="fill:url(#grid)" stroke="#000" stroke-width="4" stroke-linejoin="round"/>
<text class="c" x="1485.2" y="1206.0" font-size="31.8" text-anchor="middle" textLength="7.0" lengthAdjust="spacingAndGlyphs">1</text>
<path d="M1540.0,1195.1 L1500.5,1195.1" class="ln" stroke-width="2.5"/>
<path d="M1500.5,1195.1 L1510.5,1191.9 L1510.5,1198.3Z" style="fill:#000"/>
<text class="c" x="1007.4" y="1333.2" font-size="31.8" text-anchor="middle" textLength="9.6" lengthAdjust="spacingAndGlyphs">4</text>
<text class="c" x="1005.2" y="1519.5" font-size="31.8" text-anchor="middle" textLength="9.6" lengthAdjust="spacingAndGlyphs">5</text>
<text class="c" x="1454.5" y="1629.0" font-size="31.8" text-anchor="middle" textLength="9.6" lengthAdjust="spacingAndGlyphs">6</text>
<text class="c" x="1537.8" y="1320.0" font-size="31.8" text-anchor="middle" textLength="9.6" lengthAdjust="spacingAndGlyphs">7</text>
<text class="c" x="1049.0" y="1590.9" font-size="31.8" text-anchor="middle" textLength="9.6" lengthAdjust="spacingAndGlyphs">9</text>
<text class="c" x="1101.6" y="1591.8" font-size="31.8" text-anchor="middle" textLength="9.6" lengthAdjust="spacingAndGlyphs">3</text>
<text class="c" x="1632.1" y="1517.3" font-size="31.8" text-anchor="middle" textLength="9.6" lengthAdjust="spacingAndGlyphs">2</text>
<text class="c" transform="translate(941.6,1335.3) rotate(90)" font-size="24.5" textLength="13.2" lengthAdjust="spacingAndGlyphs">8</text>
<text class="c" x="1222.2" y="1405.5" font-size="31.8" text-anchor="middle" textLength="21.0" lengthAdjust="spacingAndGlyphs">10</text>
<path d="M1272.6,1396.7 L1235.3,1396.7" class="ln" stroke-width="2.5"/>
<path d="M1235.3,1396.7 L1245.3,1393.5 L1245.3,1399.9Z" style="fill:#000"/>
<text class="c" x="1351.5" y="1405.5" font-size="31.8" text-anchor="middle" textLength="21.0" lengthAdjust="spacingAndGlyphs">13</text>
<path d="M1301.1,1396.7 L1338.4,1396.7" class="ln" stroke-width="2.5"/>
<path d="M1338.4,1396.7 L1328.4,1399.9 L1328.4,1393.5Z" style="fill:#000"/>
<text class="c" x="1270.4" y="1463.8" font-size="31.8" text-anchor="middle" textLength="17.5" lengthAdjust="spacingAndGlyphs">11</text>
<path d="M1274.8,1403.3 L1274.8,1440.5" class="ln" stroke-width="2.5"/>
<path d="M1274.8,1440.5 L1271.6,1430.5 L1278.0,1430.5Z" style="fill:#000"/>
<text class="c" x="1298.9" y="1463.8" font-size="31.8" text-anchor="middle" textLength="21.0" lengthAdjust="spacingAndGlyphs">12</text>
<path d="M1298.9,1403.3 L1298.9,1440.5" class="ln" stroke-width="2.5"/>
<path d="M1298.9,1440.5 L1295.7,1430.5 L1302.1,1430.5Z" style="fill:#000"/>
<path d="M1038.1,1613.7 L1038.1,1578.6" class="ln" stroke-width="2.5"/>
<path d="M1038.1,1578.6 L1041.3,1588.6 L1034.9,1588.6Z" style="fill:#000"/>
<path d="M1089.4,1626.8 L1089.4,1591.8" class="ln" stroke-width="2.5"/>
<path d="M1089.4,1591.8 L1092.6,1601.8 L1086.2,1601.8Z" style="fill:#000"/>
<path d="M1062.2,1569.9 L1062.2,1607.1" class="ln" stroke-width="2.5"/>
<path d="M1114.8,1569.9 L1114.8,1620.3" class="ln" stroke-width="2.5"/>
<path d="M1016.2,1569.9 L1114.8,1569.9" class="ln" stroke-width="2.5"/>
<path d="M1651.8,1558.9 L1640.8,1528.2" class="ln" stroke-width="2.5"/>
<path d="M1640.8,1528.2 L1647.2,1536.6 L1641.2,1538.7Z" style="fill:#000"/>
<text class="c" transform="translate(1582.5,1258.6) rotate(67)" font-size="28.8" textLength="161.3" lengthAdjust="spacingAndGlyphs">STRADA COMUNALE</text>
<text class="c" transform="translate(1163.0,1678.6) rotate(14)" font-size="27.6" textLength="157.8" lengthAdjust="spacingAndGlyphs">STRADA COMUNALE</text>
<text class="c" transform="translate(1536.5,1699.6) rotate(-52)" font-size="29.4" textLength="163.1" lengthAdjust="spacingAndGlyphs">STRADA COMUNALE</text>
<text class="cb" transform="translate(1564.1,1405.5) rotate(62) scale(1,-1)" font-size="18" textLength="62" lengthAdjust="spacingAndGlyphs">rampa di</text>
<text class="cb" transform="translate(1547.9,1416.4) rotate(62) scale(1,-1)" font-size="18" textLength="118" lengthAdjust="spacingAndGlyphs">accesso garage</text>
<text class="c" transform="translate(930.7,1431.8) rotate(-90)" font-size="27.6" textLength="179.7" lengthAdjust="spacingAndGlyphs">proprieta' TAFA' LINA</text>
<text class="cb" x="1007.4" y="1646.6" font-size="24.5" textLength="72.3" lengthAdjust="spacingAndGlyphs">rampe di</text>
<text class="cb" x="1007.4" y="1666.3" font-size="24.5" textLength="129.3" lengthAdjust="spacingAndGlyphs">accesso garage</text>
<text class="c" transform="translate(1724.3,1234.4) scale(0.617,1)" x="0" y="0" font-size="47.5" textLength="481.9" lengthAdjust="spacing">PIANO PRIMO (p1)</text>
<path d="M1727.9,1282.9 L2176.0,1286.6 L2174.7,1558.5 L1725.5,1556.1Z" class="ln" stroke-width="4"/>
<path d="M1727.9,1421.3 L2176.0,1423.8" class="ln" stroke-width="4"/>
<path d="M1951.3,1423.8 L1951.3,1558.5" class="ln" stroke-width="4"/>
<path d="M1923.4,1285.3 L1923.4,1420.1" class="ln" stroke-width="4"/>
<path d="M1981.7,1315.7 L1981.7,1421.3" class="ln" stroke-width="4"/>
<rect x="1951.3" y="1286.6" width="32.8" height="30.4" style="fill:#fff" stroke="#000" stroke-width="5"/>
<path d="M1955.0,1291.4 L1979.3,1313.3" class="ln" stroke-width="2.5"/>
<path d="M1979.3,1291.4 L1955.0,1313.3" class="ln" stroke-width="2.5"/>
<path d="M1948.9,1319.3 L1981.7,1319.3 L1981.7,1392.2 L1948.9,1392.2Z" style="fill:url(#grid)" stroke="#000" stroke-width="4" stroke-linejoin="round"/>
<rect x="1940.4" y="1336.3" width="20.6" height="35.2" style="fill:#fff" stroke="#000" stroke-width="3"/>
<path d="M1828.7,1282.9 L1919.8,1284.1 L1919.8,1306.0 L1888.2,1306.0 L1888.2,1319.3 L1828.7,1319.3Z" style="fill:url(#grid)" stroke="#000" stroke-width="5" stroke-linejoin="round"/>
<path d="M1985.3,1285.3 L2075.2,1286.6 L2075.2,1320.6 L2016.9,1320.6 L2016.9,1306.0 L1985.3,1306.0Z" style="fill:url(#grid)" stroke="#000" stroke-width="5" stroke-linejoin="round"/>
<path d="M1727.9,1394.6 L1759.5,1394.6 L1759.5,1446.8 L1727.9,1446.8Z" style="fill:url(#grid)" stroke="#000" stroke-width="5" stroke-linejoin="round"/>
<path d="M2142.0,1397.1 L2174.7,1397.1 L2174.7,1450.5 L2142.0,1450.5Z" style="fill:url(#grid)" stroke="#000" stroke-width="5" stroke-linejoin="round"/>
<path d="M1842.1,1519.7 L1905.2,1519.7 L1905.2,1534.3 L1951.3,1534.3 L1951.3,1558.5 L1842.1,1558.5Z" style="fill:url(#grid)" stroke="#000" stroke-width="5" stroke-linejoin="round"/>
<path d="M1951.3,1534.3 L1998.7,1534.3 L1998.7,1520.9 L2059.4,1520.9 L2059.4,1558.5 L1951.3,1558.5Z" style="fill:url(#grid)" stroke="#000" stroke-width="5" stroke-linejoin="round"/>
<text class="c" x="1939.2" y="1318.6" font-size="27.1" text-anchor="middle" textLength="6.1" lengthAdjust="spacingAndGlyphs">1</text>
<text class="c" x="1885.0" y="1409.2" font-size="27.1" text-anchor="middle" textLength="18.2" lengthAdjust="spacingAndGlyphs">14</text>
<path d="M1938.0,1403.1 L1900.3,1403.1" class="ln" stroke-width="2.5"/>
<path d="M1900.3,1403.1 L1909.3,1400.2 L1909.3,1406.0Z" style="fill:#000"/>
<text class="c" x="2016.9" y="1409.2" font-size="27.1" text-anchor="middle" textLength="18.2" lengthAdjust="spacingAndGlyphs">17</text>
<path d="M1967.1,1403.1 L2004.8,1403.1" class="ln" stroke-width="2.5"/>
<path d="M2004.8,1403.1 L1995.8,1406.0 L1995.8,1400.2Z" style="fill:#000"/>
<text class="c" x="1934.3" y="1467.5" font-size="27.1" text-anchor="middle" textLength="18.2" lengthAdjust="spacingAndGlyphs">15</text>
<path d="M1940.4,1409.2 L1940.4,1445.6" class="ln" stroke-width="2.5"/>
<path d="M1940.4,1445.6 L1937.5,1436.6 L1943.3,1436.6Z" style="fill:#000"/>
<text class="c" x="1964.7" y="1467.5" font-size="27.1" text-anchor="middle" textLength="18.2" lengthAdjust="spacingAndGlyphs">16</text>
<path d="M1964.7,1409.2 L1964.7,1445.6" class="ln" stroke-width="2.5"/>
<path d="M1964.7,1445.6 L1961.8,1436.6 L1967.6,1436.6Z" style="fill:#000"/>
<text class="c" transform="translate(322.4,1953.7) scale(0.558,1)" x="0" y="0" font-size="51.5" textLength="628.9" lengthAdjust="spacing">PIANO SECONDO (p2)</text>
<path d="M319.2,1990.6 L763.1,1993.8 L763.1,2267.8 L317.6,2264.6Z" class="ln" stroke-width="4"/>
<path d="M351.3,2126.8 L729.5,2130.0" class="ln" stroke-width="4"/>
<path d="M540.4,2130.0 L540.4,2266.2" class="ln" stroke-width="4"/>
<path d="M513.1,1993.8 L513.1,2128.4" class="ln" stroke-width="4"/>
<path d="M569.2,2027.4 L569.2,2128.4" class="ln" stroke-width="4"/>
<rect x="540.4" y="1993.8" width="32.1" height="32.1" style="fill:#fff" stroke="#000" stroke-width="5"/>
<path d="M545.2,1998.6 L567.6,2021.0" class="ln" stroke-width="2.5"/>
<path d="M567.6,1998.6 L545.2,2021.0" class="ln" stroke-width="2.5"/>
<path d="M538.8,2027.4 L569.2,2027.4 L569.2,2101.2 L538.8,2101.2Z" style="fill:url(#grid)" stroke="#000" stroke-width="3" stroke-linejoin="round"/>
<rect x="530.8" y="2043.5" width="22.4" height="36.9" style="fill:#fff" stroke="#000" stroke-width="3"/>
<path d="M514.7,2115.6 L567.6,2115.6" class="ln" stroke-width="2"/>
<path d="M423.4,1992.2 L513.1,1993.8 L513.1,2014.6 L479.5,2014.6 L479.5,2025.8 L423.4,2025.8Z" style="fill:url(#grid)" stroke="#000" stroke-width="5" stroke-linejoin="round"/>
<path d="M572.4,1993.8 L663.8,1995.4 L663.8,2027.4 L607.7,2027.4 L607.7,2014.6 L572.4,2014.6Z" style="fill:url(#grid)" stroke="#000" stroke-width="5" stroke-linejoin="round"/>
<path d="M317.6,2101.2 L351.3,2101.2 L351.3,2154.0 L317.6,2154.0Z" style="fill:url(#grid)" stroke="#000" stroke-width="5" stroke-linejoin="round"/>
<path d="M729.5,2104.4 L763.1,2104.4 L763.1,2157.2 L729.5,2157.2Z" style="fill:url(#grid)" stroke="#000" stroke-width="5" stroke-linejoin="round"/>
<path d="M434.6,2227.8 L493.9,2227.8 L493.9,2245.4 L540.4,2245.4 L540.4,2266.2 L434.6,2266.2Z" style="fill:url(#grid)" stroke="#000" stroke-width="5" stroke-linejoin="round"/>
<path d="M540.4,2245.4 L586.9,2245.4 L586.9,2229.4 L646.2,2229.4 L646.2,2266.2 L540.4,2266.2Z" style="fill:url(#grid)" stroke="#000" stroke-width="5" stroke-linejoin="round"/>
<text class="c" x="529.2" y="2028.1" font-size="29.1" text-anchor="middle" textLength="7.1" lengthAdjust="spacingAndGlyphs">1</text>
<text class="c" x="476.3" y="2116.5" font-size="29.1" text-anchor="middle" textLength="17.6" lengthAdjust="spacingAndGlyphs">18</text>
<path d="M526.0,2109.2 L490.7,2109.2" class="ln" stroke-width="2.5"/>
<path d="M490.7,2109.2 L499.7,2106.3 L499.7,2112.0Z" style="fill:#000"/>
<text class="c" x="606.1" y="2117.2" font-size="29.1" text-anchor="middle" textLength="17.6" lengthAdjust="spacingAndGlyphs">21</text>
<path d="M556.4,2109.2 L591.7,2109.2" class="ln" stroke-width="2.5"/>
<path d="M591.7,2109.2 L582.7,2112.0 L582.7,2106.3Z" style="fill:#000"/>
<text class="c" x="522.8" y="2174.2" font-size="29.1" text-anchor="middle" textLength="17.6" lengthAdjust="spacingAndGlyphs">19</text>
<path d="M530.1,2114.0 L530.1,2154.0" class="ln" stroke-width="2.5"/>
<path d="M530.1,2154.0 L527.2,2145.0 L533.0,2145.0Z" style="fill:#000"/>
<text class="c" x="553.2" y="2174.2" font-size="29.1" text-anchor="middle" textLength="19.2" lengthAdjust="spacingAndGlyphs">20</text>
<path d="M554.8,2114.0 L554.8,2154.0" class="ln" stroke-width="2.5"/>
<path d="M554.8,2154.0 L551.9,2145.0 L557.7,2145.0Z" style="fill:#000"/>
<text class="c" transform="translate(1057.4,1950.4) scale(0.627,1)" x="0" y="0" font-size="47.3" textLength="484.4" lengthAdjust="spacing">PIANO TERZO (p3)</text>
<path d="M1058.7,1975.2 L1251.6,1975.2 L1251.6,2033.8 L1058.7,2033.8Z" style="fill:url(#stripe)" stroke="#000" stroke-width="5" stroke-linejoin="round"/>
<path d="M1314.2,1976.5 L1503.1,1977.8 L1503.1,2037.7 L1314.2,2037.7Z" style="fill:url(#stripe)" stroke="#000" stroke-width="5" stroke-linejoin="round"/>
<path d="M1057.4,2233.2 L1129.1,2233.2 L1129.1,2268.4 L1432.8,2268.4 L1432.8,2234.5 L1503.1,2234.5 L1501.8,2297.1 L1057.4,2294.5Z" style="fill:url(#stripe)" stroke="#000" stroke-width="5" stroke-linejoin="round"/>
<path d="M1058.7,2033.8 L1057.4,2233.2" class="ln" stroke-width="4"/>
<path d="M1503.1,2037.7 L1501.8,2234.5" class="ln" stroke-width="4"/>
<path d="M1122.5,2001.2 L1254.2,2001.2 L1254.2,2066.4 L1122.5,2066.4Z" style="fill:url(#grid)" stroke="#000" stroke-width="5" stroke-linejoin="round"/>
<path d="M1312.8,2005.1 L1439.3,2005.1 L1439.3,2066.4 L1312.8,2066.4Z" style="fill:url(#grid)" stroke="#000" stroke-width="5" stroke-linejoin="round"/>
<path d="M1127.8,2199.3 L1434.1,2199.3 L1434.1,2268.4 L1127.8,2268.4Z" style="fill:url(#grid)" stroke="#000" stroke-width="5" stroke-linejoin="round"/>
<rect x="1252.9" y="1997.3" width="60.0" height="136.9" style="fill:#fff"/>
<path d="M1311.5,2099.0 L1311.5,1998.6 L1252.9,1997.3 L1252.9,2134.2 L1281.6,2134.2" class="ln" stroke-width="5"/>
<rect x="1281.6" y="1998.6" width="30.0" height="30.0" style="fill:#fff" stroke="#000" stroke-width="6"/>
<path d="M1285.5,2003.8 L1307.6,2024.7" class="ln" stroke-width="2.5"/>
<path d="M1307.6,2003.8 L1285.5,2024.7" class="ln" stroke-width="2.5"/>
<path d="M1280.3,2031.2 L1310.2,2031.2 L1310.2,2099.0 L1280.3,2099.0Z" style="fill:url(#grid)" stroke="#000" stroke-width="3" stroke-linejoin="round"/>
<rect x="1271.1" y="2049.4" width="19.6" height="36.5" style="fill:#fff" stroke="#000" stroke-width="3"/>
<path d="M1281.6,2099.0 L1281.6,2294.5" class="ln" stroke-width="5"/>
<rect x="1174.7" y="2134.2" width="20.9" height="20.9" style="fill:#111"/>
<rect x="1367.6" y="2138.1" width="19.6" height="19.6" style="fill:#111"/>
<text class="c" x="1267.2" y="2033.8" font-size="29.1" text-anchor="middle" textLength="7.3" lengthAdjust="spacingAndGlyphs">1</text>
<text class="c" x="1213.8" y="2130.3" font-size="29.1" text-anchor="middle" textLength="20.9" lengthAdjust="spacingAndGlyphs">22</text>
<path d="M1251.6,2118.5 L1228.1,2118.5" class="ln" stroke-width="2.5"/>
<path d="M1228.1,2118.5 L1237.1,2115.6 L1237.1,2121.4Z" style="fill:#000"/>
<text class="c" x="1319.4" y="2130.3" font-size="29.1" text-anchor="middle" textLength="20.9" lengthAdjust="spacingAndGlyphs">23</text>
<path d="M1284.2,2118.5 L1307.6,2118.5" class="ln" stroke-width="2.5"/>
<path d="M1307.6,2118.5 L1298.6,2121.4 L1298.6,2115.6Z" style="fill:#000"/>
<text class="c" transform="translate(1735.6,1904.0) scale(0.678,1)" x="0" y="0" font-size="43.7" textLength="492.8" lengthAdjust="spacing">PIANO QUARTO (p4)</text>
<text class="c" transform="translate(1729.9,1958.0) scale(0.795,1)" x="0" y="0" font-size="43.7" textLength="243.1" lengthAdjust="spacing">(sottotetto)</text>
<path d="M1722.8,1979.4 L1916.2,1979.4 L1916.2,2077.5 L1722.8,2078.9Z" style="fill:url(#stripe)" stroke="#000" stroke-width="5" stroke-linejoin="round"/>
<path d="M1980.1,1982.2 L2172.1,1982.2 L2170.7,2088.9 L1980.1,2084.6Z" style="fill:url(#stripe)" stroke="#000" stroke-width="5" stroke-linejoin="round"/>
<path d="M1721.3,2194.1 L1916.2,2194.1 L1916.2,2182.7 L1977.3,2182.7 L1977.3,2188.4 L2170.7,2192.7 L2172.1,2302.2 L1721.3,2302.2Z" style="fill:url(#stripe)" stroke="#000" stroke-width="5" stroke-linejoin="round"/>
<path d="M1722.8,2078.9 L1721.3,2194.1" class="ln" stroke-width="5"/>
<path d="M2170.7,2088.9 L2170.7,2192.7" class="ln" stroke-width="5"/>
<path d="M1788.2,2007.8 L1913.3,2007.8 L1913.3,2029.1 L1788.2,2029.1Z" style="fill:url(#grid)" stroke="#000" stroke-width="3" stroke-linejoin="round"/>
<path d="M1985.8,2009.2 L2103.9,2009.2 L2103.9,2029.1 L1985.8,2029.1Z" style="fill:url(#grid)" stroke="#000" stroke-width="3" stroke-linejoin="round"/>
<path d="M1793.9,2252.4 L2098.2,2252.4 L2098.2,2273.7 L1793.9,2273.7Z" style="fill:url(#grid)" stroke="#000" stroke-width="3" stroke-linejoin="round"/>
<rect x="1917.6" y="2005.0" width="59.7" height="126.6" style="fill:#fff"/>
<path d="M1917.6,2131.5 L1917.6,2003.5 L1983.0,2003.5 L1983.0,2084.6" class="ln" stroke-width="7"/>
<path d="M1917.6,2131.5 L1977.3,2131.5 L1977.3,2084.6" class="ln" stroke-width="5"/>
<rect x="1950.3" y="2006.4" width="27.0" height="28.4" style="fill:#fff" stroke="#000" stroke-width="5"/>
<path d="M1954.6,2010.6 L1973.0,2030.6" class="ln" stroke-width="2.5"/>
<path d="M1973.0,2010.6 L1954.6,2030.6" class="ln" stroke-width="2.5"/>
<path d="M1944.6,2036.2 L1975.9,2036.2 L1975.9,2111.6 L1944.6,2111.6Z" style="fill:url(#grid)" stroke="#000" stroke-width="3" stroke-linejoin="round"/>
<rect x="1936.1" y="2054.7" width="21.3" height="35.6" style="fill:#fff" stroke="#000" stroke-width="3"/>
<text class="c" x="1931.8" y="2042.5" font-size="27.8" text-anchor="middle" textLength="7.1" lengthAdjust="spacingAndGlyphs">1</text>
<path d="M1933.2,2120.1 L1933.2,2155.7" class="ln" stroke-width="2.5"/>
<path d="M1933.2,2155.7 L1930.3,2146.7 L1936.1,2146.7Z" style="fill:#000"/>
<path d="M1961.7,2120.1 L1961.7,2155.7" class="ln" stroke-width="2.5"/>
<path d="M1961.7,2155.7 L1958.8,2146.7 L1964.5,2146.7Z" style="fill:#000"/>
<text class="c" x="1920.4" y="2172.8" font-size="31.8" text-anchor="middle" textLength="19.9" lengthAdjust="spacingAndGlyphs">22</text>
<text class="c" x="1974.5" y="2172.8" font-size="31.8" text-anchor="middle" textLength="19.9" lengthAdjust="spacingAndGlyphs">23</text>
<rect x="1917.6" y="2182.7" width="58.3" height="46.9" style="fill:#fff" stroke="#000" stroke-width="6"/>
<path d="M1947.4,2131.5 L1947.4,2232.5" class="ln" stroke-width="3"/>
<text class="c" x="1933.2" y="2216.8" font-size="31.8" text-anchor="middle" textLength="19.9" lengthAdjust="spacingAndGlyphs">22</text>
<text class="c" x="1960.2" y="2216.8" font-size="31.8" text-anchor="middle" textLength="19.9" lengthAdjust="spacingAndGlyphs">23</text>
<rect x="1839.4" y="2141.5" width="19.9" height="18.5" style="fill:#111"/>
<rect x="2034.2" y="2142.9" width="21.3" height="19.9" style="fill:#111"/>
<text class="c" x="2284.0" y="322.0" font-size="44.0" textLength="162.0" lengthAdjust="spacingAndGlyphs" style="stroke-width:1.6px">LEGENDA:</text>
<path d="M2284,328 L2448,330" class="ln" stroke-width="4"/>
<text class="c" transform="translate(2285.0,380.0) scale(0.547,1)" x="0" y="0" font-size="38.0" textLength="102.3" lengthAdjust="spacing">SUB1</text>
<path d="M2362.0,367.0 L2378.0,367.0" class="ln" stroke-width="3.2" stroke-linecap="butt"/>
<text class="c" transform="translate(2395.0,380.0) scale(0.650,1)" x="0" y="0" font-size="38.0" textLength="1122.1" lengthAdjust="spacing">beni comuni non censibili ai subalterni 10–11–12–13–14–</text>
<text class="c" transform="translate(2393.0,422.0) scale(0.664,1)" x="0" y="0" font-size="38.0" textLength="1106.2" lengthAdjust="spacing">15–16–17–18–19–20–21–22–23–25–26–27–28–29–30–</text>
<text class="c" transform="translate(2392.0,462.0) scale(0.674,1)" x="0" y="0" font-size="38.0" textLength="1093.6" lengthAdjust="spacing">31–32–33–34–35–36–37–38–39– (corte–androne (pT)–</text>
<text class="c" transform="translate(2394.0,504.0) scale(0.617,1)" x="0" y="0" font-size="38.0" textLength="1152.3" lengthAdjust="spacing">scala (pS1,pT,p1,p2,p3,p4) vano ascensore (pS1,pT,p1,p2,</text>
<text class="c" transform="translate(2394.0,545.0) scale(0.639,1)" x="0" y="0" font-size="38.0" textLength="761.5" lengthAdjust="spacing">p3,p4) vano macchine scensore (pS1))</text>
<text class="c" transform="translate(2391.0,629.0) scale(0.678,1)" x="0" y="0" font-size="38.0" textLength="985.6" lengthAdjust="spacing">19–20–23–29–30–31–32–36–37–38–39– rampa e</text>
<text class="c" transform="translate(2390.0,670.0) scale(0.630,1)" x="0" y="0" font-size="38.0" textLength="641.2" lengthAdjust="spacing">androne accesso garge (pT,pS1)</text>
<text class="c" transform="translate(2389.0,752.0) scale(0.670,1)" x="0" y="0" font-size="38.0" textLength="1086.4" lengthAdjust="spacing">16–21–22–25–26–27–28–33–34–35– rampa e androne</text>
<text class="c" transform="translate(2389.0,793.0) scale(0.628,1)" x="0" y="0" font-size="38.0" textLength="466.8" lengthAdjust="spacing">accesso garge (pT,pS1)</text>
<text class="c" transform="translate(2282.0,588.0) scale(0.577,1)" x="0" y="0" font-size="38.0" textLength="102.3" lengthAdjust="spacing">SUB2</text>
<path d="M2360.0,575.0 L2376.0,575.0" class="ln" stroke-width="3.2" stroke-linecap="butt"/>
<text class="c" transform="translate(2393.0,588.0) scale(0.660,1)" x="0" y="0" font-size="38.0" textLength="1063.9" lengthAdjust="spacing">beni comuni non censibili ai  subalterni 10–13–17–18–</text>
<text class="c" transform="translate(2280.0,711.0) scale(0.586,1)" x="0" y="0" font-size="38.0" textLength="102.3" lengthAdjust="spacing">SUB3</text>
<path d="M2360.0,698.0 L2376.0,698.0" class="ln" stroke-width="3.2" stroke-linecap="butt"/>
<text class="c" transform="translate(2392.0,711.0) scale(0.658,1)" x="0" y="0" font-size="38.0" textLength="1060.6" lengthAdjust="spacing">beni comuni non censibili ai  subalterni 11–12–14–15–</text>
<text class="c" transform="translate(2280.0,833.0) scale(0.586,1)" x="0" y="0" font-size="38.0" textLength="102.3" lengthAdjust="spacing">SUB4</text>
<path d="M2360.0,820.0 L2376.0,820.0" class="ln" stroke-width="3.2" stroke-linecap="butt"/>
<text class="c" transform="translate(2391.0,833.0) scale(0.649,1)" x="0" y="0" font-size="38.0" textLength="643.7" lengthAdjust="spacing">corte esclusiva del subalterno 10</text>
<text class="c" transform="translate(2280.0,873.0) scale(0.586,1)" x="0" y="0" font-size="38.0" textLength="102.3" lengthAdjust="spacing">SUB5</text>
<path d="M2360.0,860.0 L2376.0,860.0" class="ln" stroke-width="3.2" stroke-linecap="butt"/>
<text class="c" transform="translate(2391.0,873.0) scale(0.645,1)" x="0" y="0" font-size="38.0" textLength="640.4" lengthAdjust="spacing">corte esclusiva del subalterno 11</text>
<text class="c" transform="translate(2278.0,914.0) scale(0.586,1)" x="0" y="0" font-size="38.0" textLength="102.3" lengthAdjust="spacing">SUB6</text>
<path d="M2358.0,901.0 L2374.0,901.0" class="ln" stroke-width="3.2" stroke-linecap="butt"/>
<text class="c" transform="translate(2391.0,914.0) scale(0.649,1)" x="0" y="0" font-size="38.0" textLength="643.7" lengthAdjust="spacing">corte esclusiva del subalterno 12</text>
<text class="c" transform="translate(2278.0,955.0) scale(0.586,1)" x="0" y="0" font-size="38.0" textLength="102.3" lengthAdjust="spacing">SUB7</text>
<path d="M2358.0,942.0 L2374.0,942.0" class="ln" stroke-width="3.2" stroke-linecap="butt"/>
<text class="c" transform="translate(2391.0,955.0) scale(0.649,1)" x="0" y="0" font-size="38.0" textLength="643.7" lengthAdjust="spacing">corte esclusiva del subalterno 13</text>
<text class="c" transform="translate(2278.0,996.0) scale(0.586,1)" x="0" y="0" font-size="38.0" textLength="102.3" lengthAdjust="spacing">SUB8</text>
<path d="M2358.0,983.0 L2374.0,983.0" class="ln" stroke-width="3.2" stroke-linecap="butt"/>
<text class="c" transform="translate(2391.0,996.0) scale(0.660,1)" x="0" y="0" font-size="38.0" textLength="371.0" lengthAdjust="spacing">area urbana di mq.</text>
<text class="c" transform="translate(2277.0,1036.0) scale(0.586,1)" x="0" y="0" font-size="38.0" textLength="102.3" lengthAdjust="spacing">SUB9</text>
<path d="M2357.0,1023.0 L2373.0,1023.0" class="ln" stroke-width="3.2" stroke-linecap="butt"/>
<text class="c" transform="translate(2391.0,1036.0) scale(0.653,1)" x="0" y="0" font-size="38.0" textLength="643.7" lengthAdjust="spacing">corte esclusiva del subalterno 24</text>
<text class="c" transform="translate(2277.0,1077.0) scale(0.564,1)" x="0" y="0" font-size="38.0" textLength="124.1" lengthAdjust="spacing">SUB10</text>
<path d="M2366.0,1064.0 L2382.0,1064.0" class="ln" stroke-width="3.2" stroke-linecap="butt"/>
<text class="c" transform="translate(2402.0,1077.0) scale(0.647,1)" x="0" y="0" font-size="38.0" textLength="366.0" lengthAdjust="spacing">appartamento (pT)</text>
<text class="c" transform="translate(2276.7,1118.0) scale(0.577,1)" x="0" y="0" font-size="38.0" textLength="121.2" lengthAdjust="spacing">SUB11</text>
<path d="M2365.7,1105.0 L2381.7,1105.0" class="ln" stroke-width="3.2" stroke-linecap="butt"/>
<text class="c" transform="translate(2402.0,1118.0) scale(0.647,1)" x="0" y="0" font-size="38.0" textLength="366.0" lengthAdjust="spacing">appartamento (pT)</text>
<text class="c" transform="translate(2276.4,1158.0) scale(0.564,1)" x="0" y="0" font-size="38.0" textLength="124.1" lengthAdjust="spacing">SUB12</text>
<path d="M2365.4,1145.0 L2381.4,1145.0" class="ln" stroke-width="3.2" stroke-linecap="butt"/>
<text class="c" transform="translate(2402.0,1158.0) scale(0.647,1)" x="0" y="0" font-size="38.0" textLength="366.0" lengthAdjust="spacing">appartamento (pT)</text>
<text class="c" transform="translate(2276.1,1198.0) scale(0.564,1)" x="0" y="0" font-size="38.0" textLength="124.1" lengthAdjust="spacing">SUB13</text>
<path d="M2365.1,1185.0 L2381.1,1185.0" class="ln" stroke-width="3.2" stroke-linecap="butt"/>
<text class="c" transform="translate(2402.0,1198.0) scale(0.647,1)" x="0" y="0" font-size="38.0" textLength="366.0" lengthAdjust="spacing">appartamento (pT)</text>
<text class="c" transform="translate(2275.8,1239.0) scale(0.564,1)" x="0" y="0" font-size="38.0" textLength="124.1" lengthAdjust="spacing">SUB14</text>
<path d="M2364.8,1226.0 L2380.8,1226.0" class="ln" stroke-width="3.2" stroke-linecap="butt"/>
<text class="c" transform="translate(2402.0,1239.0) scale(0.652,1)" x="0" y="0" font-size="38.0" textLength="363.6" lengthAdjust="spacing">appartamento (p1)</text>
<text class="c" transform="translate(2275.5,1279.0) scale(0.564,1)" x="0" y="0" font-size="38.0" textLength="124.1" lengthAdjust="spacing">SUB15</text>
<path d="M2364.5,1266.0 L2380.5,1266.0" class="ln" stroke-width="3.2" stroke-linecap="butt"/>
<text class="c" transform="translate(2402.0,1279.0) scale(0.652,1)" x="0" y="0" font-size="38.0" textLength="363.6" lengthAdjust="spacing">appartamento (p1)</text>
<text class="c" transform="translate(2275.2,1320.0) scale(0.564,1)" x="0" y="0" font-size="38.0" textLength="124.1" lengthAdjust="spacing">SUB16</text>
<path d="M2364.2,1307.0 L2380.2,1307.0" class="ln" stroke-width="3.2" stroke-linecap="butt"/>
<text class="c" transform="translate(2402.0,1320.0) scale(0.652,1)" x="0" y="0" font-size="38.0" textLength="363.6" lengthAdjust="spacing">appartamento (p1)</text>
<text class="c" transform="translate(2274.9,1361.0) scale(0.564,1)" x="0" y="0" font-size="38.0" textLength="124.1" lengthAdjust="spacing">SUB17</text>
<path d="M2363.9,1348.0 L2379.9,1348.0" class="ln" stroke-width="3.2" stroke-linecap="butt"/>
<text class="c" transform="translate(2402.0,1361.0) scale(0.652,1)" x="0" y="0" font-size="38.0" textLength="363.6" lengthAdjust="spacing">appartamento (p1)</text>
<text class="c" transform="translate(2274.6,1401.0) scale(0.564,1)" x="0" y="0" font-size="38.0" textLength="124.1" lengthAdjust="spacing">SUB18</text>
<path d="M2363.6,1388.0 L2379.6,1388.0" class="ln" stroke-width="3.2" stroke-linecap="butt"/>
<text class="c" transform="translate(2402.0,1401.0) scale(0.652,1)" x="0" y="0" font-size="38.0" textLength="363.6" lengthAdjust="spacing">appartamento (p2)</text>
<text class="c" transform="translate(2274.3,1441.0) scale(0.564,1)" x="0" y="0" font-size="38.0" textLength="124.1" lengthAdjust="spacing">SUB19</text>
<path d="M2363.3,1428.0 L2379.3,1428.0" class="ln" stroke-width="3.2" stroke-linecap="butt"/>
<text class="c" transform="translate(2402.0,1441.0) scale(0.652,1)" x="0" y="0" font-size="38.0" textLength="363.6" lengthAdjust="spacing">appartamento (p2)</text>
<text class="c" transform="translate(2274.0,1482.0) scale(0.564,1)" x="0" y="0" font-size="38.0" textLength="124.1" lengthAdjust="spacing">SUB20</text>
<path d="M2363.0,1469.0 L2379.0,1469.0" class="ln" stroke-width="3.2" stroke-linecap="butt"/>
<text class="c" transform="translate(2402.0,1482.0) scale(0.652,1)" x="0" y="0" font-size="38.0" textLength="363.6" lengthAdjust="spacing">appartamento (p2)</text>
<text class="c" transform="translate(2273.7,1522.0) scale(0.564,1)" x="0" y="0" font-size="38.0" textLength="124.1" lengthAdjust="spacing">SUB21</text>
<path d="M2362.7,1509.0 L2378.7,1509.0" class="ln" stroke-width="3.2" stroke-linecap="butt"/>
<text class="c" transform="translate(2402.0,1522.0) scale(0.652,1)" x="0" y="0" font-size="38.0" textLength="363.6" lengthAdjust="spacing">appartamento (p2)</text>
<text class="c" transform="translate(2275.0,1563.0) scale(0.580,1)" x="0" y="0" font-size="38.0" textLength="124.1" lengthAdjust="spacing">SUB22</text>
<path d="M2366.0,1550.0 L2382.0,1550.0" class="ln" stroke-width="3.2" stroke-linecap="butt"/>
<text class="c" transform="translate(2402.0,1563.0) scale(0.689,1)" x="0" y="0" font-size="38.0" textLength="657.6" lengthAdjust="spacing">appartamento (p3)– e soffitta (p4)</text>
<text class="c" transform="translate(2275.0,1605.0) scale(0.580,1)" x="0" y="0" font-size="38.0" textLength="124.1" lengthAdjust="spacing">SUB23</text>
<path d="M2366.0,1592.0 L2382.0,1592.0" class="ln" stroke-width="3.2" stroke-linecap="butt"/>
<text class="c" transform="translate(2402.0,1605.0) scale(0.687,1)" x="0" y="0" font-size="38.0" textLength="633.0" lengthAdjust="spacing">appartamento (p3) e soffitta (p4)</text>
<text class="c" transform="translate(2275.0,1645.0) scale(0.580,1)" x="0" y="0" font-size="38.0" textLength="124.1" lengthAdjust="spacing">SUB24</text>
<path d="M2367.0,1632.0 L2383.0,1632.0" class="ln" stroke-width="3.2" stroke-linecap="butt"/>
<text class="c" transform="translate(2401.0,1645.0) scale(0.632,1)" x="0" y="0" font-size="38.0" textLength="258.0" lengthAdjust="spacing">garage (pS1)</text>
<text class="c" transform="translate(2274.7,1686.0) scale(0.580,1)" x="0" y="0" font-size="38.0" textLength="124.1" lengthAdjust="spacing">SUB25</text>
<path d="M2366.7,1673.0 L2382.7,1673.0" class="ln" stroke-width="3.2" stroke-linecap="butt"/>
<text class="c" transform="translate(2401.0,1686.0) scale(0.632,1)" x="0" y="0" font-size="38.0" textLength="258.0" lengthAdjust="spacing">garage (pS1)</text>
<text class="c" transform="translate(2274.4,1726.0) scale(0.580,1)" x="0" y="0" font-size="38.0" textLength="124.1" lengthAdjust="spacing">SUB26</text>
<path d="M2366.4,1713.0 L2382.4,1713.0" class="ln" stroke-width="3.2" stroke-linecap="butt"/>
<text class="c" transform="translate(2401.0,1726.0) scale(0.632,1)" x="0" y="0" font-size="38.0" textLength="258.0" lengthAdjust="spacing">garage (pS1)</text>
<text class="c" transform="translate(2274.1,1767.0) scale(0.580,1)" x="0" y="0" font-size="38.0" textLength="124.1" lengthAdjust="spacing">SUB27</text>
<path d="M2366.1,1754.0 L2382.1,1754.0" class="ln" stroke-width="3.2" stroke-linecap="butt"/>
<text class="c" transform="translate(2401.0,1767.0) scale(0.632,1)" x="0" y="0" font-size="38.0" textLength="258.0" lengthAdjust="spacing">garage (pS1)</text>
<text class="c" transform="translate(2273.8,1807.0) scale(0.580,1)" x="0" y="0" font-size="38.0" textLength="124.1" lengthAdjust="spacing">SUB28</text>
<path d="M2365.8,1794.0 L2381.8,1794.0" class="ln" stroke-width="3.2" stroke-linecap="butt"/>
<text class="c" transform="translate(2401.0,1807.0) scale(0.632,1)" x="0" y="0" font-size="38.0" textLength="258.0" lengthAdjust="spacing">garage (pS1)</text>
<text class="c" transform="translate(2273.5,1848.0) scale(0.580,1)" x="0" y="0" font-size="38.0" textLength="124.1" lengthAdjust="spacing">SUB29</text>
<path d="M2365.5,1835.0 L2381.5,1835.0" class="ln" stroke-width="3.2" stroke-linecap="butt"/>
<text class="c" transform="translate(2401.0,1848.0) scale(0.632,1)" x="0" y="0" font-size="38.0" textLength="258.0" lengthAdjust="spacing">garage (pS1)</text>
<text class="c" transform="translate(2273.2,1887.0) scale(0.580,1)" x="0" y="0" font-size="38.0" textLength="124.1" lengthAdjust="spacing">SUB30</text>
<path d="M2365.2,1874.0 L2381.2,1874.0" class="ln" stroke-width="3.2" stroke-linecap="butt"/>
<text class="c" transform="translate(2401.0,1887.0) scale(0.632,1)" x="0" y="0" font-size="38.0" textLength="258.0" lengthAdjust="spacing">garage (pS1)</text>
<text class="c" transform="translate(2272.9,1928.0) scale(0.580,1)" x="0" y="0" font-size="38.0" textLength="124.1" lengthAdjust="spacing">SUB31</text>
<path d="M2364.9,1915.0 L2380.9,1915.0" class="ln" stroke-width="3.2" stroke-linecap="butt"/>
<text class="c" transform="translate(2401.0,1928.0) scale(0.632,1)" x="0" y="0" font-size="38.0" textLength="258.0" lengthAdjust="spacing">garage (pS1)</text>
<text class="c" transform="translate(2272.6,1969.0) scale(0.580,1)" x="0" y="0" font-size="38.0" textLength="124.1" lengthAdjust="spacing">SUB32</text>
<path d="M2364.6,1956.0 L2380.6,1956.0" class="ln" stroke-width="3.2" stroke-linecap="butt"/>
<text class="c" transform="translate(2401.0,1969.0) scale(0.632,1)" x="0" y="0" font-size="38.0" textLength="258.0" lengthAdjust="spacing">garage (pS1)</text>
<text class="c" transform="translate(2272.3,2009.0) scale(0.580,1)" x="0" y="0" font-size="38.0" textLength="124.1" lengthAdjust="spacing">SUB33</text>
<path d="M2364.3,1996.0 L2380.3,1996.0" class="ln" stroke-width="3.2" stroke-linecap="butt"/>
<text class="c" transform="translate(2401.0,2009.0) scale(0.632,1)" x="0" y="0" font-size="38.0" textLength="258.0" lengthAdjust="spacing">garage (pS1)</text>
<text class="c" transform="translate(2272.0,2049.0) scale(0.580,1)" x="0" y="0" font-size="38.0" textLength="124.1" lengthAdjust="spacing">SUB34</text>
<path d="M2364.0,2036.0 L2380.0,2036.0" class="ln" stroke-width="3.2" stroke-linecap="butt"/>
<text class="c" transform="translate(2401.0,2049.0) scale(0.632,1)" x="0" y="0" font-size="38.0" textLength="258.0" lengthAdjust="spacing">garage (pS1)</text>
<text class="c" transform="translate(2271.7,2090.0) scale(0.580,1)" x="0" y="0" font-size="38.0" textLength="124.1" lengthAdjust="spacing">SUB35</text>
<path d="M2363.7,2077.0 L2379.7,2077.0" class="ln" stroke-width="3.2" stroke-linecap="butt"/>
<text class="c" transform="translate(2401.0,2090.0) scale(0.632,1)" x="0" y="0" font-size="38.0" textLength="258.0" lengthAdjust="spacing">garage (pS1)</text>
<text class="c" transform="translate(2271.4,2129.0) scale(0.580,1)" x="0" y="0" font-size="38.0" textLength="124.1" lengthAdjust="spacing">SUB36</text>
<path d="M2363.4,2116.0 L2379.4,2116.0" class="ln" stroke-width="3.2" stroke-linecap="butt"/>
<text class="c" transform="translate(2401.0,2129.0) scale(0.632,1)" x="0" y="0" font-size="38.0" textLength="258.0" lengthAdjust="spacing">garage (pS1)</text>
<text class="c" transform="translate(2271.1,2171.0) scale(0.580,1)" x="0" y="0" font-size="38.0" textLength="124.1" lengthAdjust="spacing">SUB37</text>
<path d="M2363.1,2158.0 L2379.1,2158.0" class="ln" stroke-width="3.2" stroke-linecap="butt"/>
<text class="c" transform="translate(2401.0,2171.0) scale(0.632,1)" x="0" y="0" font-size="38.0" textLength="258.0" lengthAdjust="spacing">garage (pS1)</text>
<text class="c" transform="translate(2270.8,2211.0) scale(0.580,1)" x="0" y="0" font-size="38.0" textLength="124.1" lengthAdjust="spacing">SUB38</text>
<path d="M2362.8,2198.0 L2378.8,2198.0" class="ln" stroke-width="3.2" stroke-linecap="butt"/>
<text class="c" transform="translate(2401.0,2211.0) scale(0.632,1)" x="0" y="0" font-size="38.0" textLength="258.0" lengthAdjust="spacing">garage (pS1)</text>
<text class="c" transform="translate(2270.5,2252.0) scale(0.580,1)" x="0" y="0" font-size="38.0" textLength="124.1" lengthAdjust="spacing">SUB39</text>
<path d="M2362.5,2239.0 L2378.5,2239.0" class="ln" stroke-width="3.2" stroke-linecap="butt"/>
<text class="c" transform="translate(2401.0,2252.0) scale(0.632,1)" x="0" y="0" font-size="38.0" textLength="258.0" lengthAdjust="spacing">garage (pS1)</text>
<path d="M2650,990 L2685,984" class="ln" stroke-width="3"/>
<text class="c" x="2650" y="996" font-size="36" textLength="50" lengthAdjust="spacingAndGlyphs">49,93</text>
<path d="M2743,980 C2735,980 2732,985 2731,993 C2738,989 2746,992 2744,998 C2742,1004 2733,1002 2730,999 M2752,985 C2762,979 2774,985 2770,996 C2766,1004 2752,1002 2752,993 C2752,988 2756,986 2760,985 M2784,1000 L2786,1000 M2795,990 C2805,985 2815,982 2830,978" class="ln" stroke-width="2.5"/>
<text class="c" transform="translate(2646.0,2072.0) scale(0.598,1)" x="0" y="0" font-size="34.0" textLength="230.7" lengthAdjust="spacing">IL TECNICO:</text>
<text class="c" transform="translate(2646.0,2111.0) scale(0.707,1)" x="0" y="0" font-size="34.0" textLength="413.1" lengthAdjust="spacing">Dott. Ing. Sandro Massi</text>
<rect x="2620" y="2145" width="420" height="100" fill="none" stroke="#000" stroke-width="6"/>
<text class="sbs" x="2638" y="2185" font-size="30" textLength="114" lengthAdjust="spacingAndGlyphs" stroke="#000" stroke-width="2">Dott. Ing.</text>
<text x="2782" y="2184" font-size="24" textLength="85" lengthAdjust="spacingAndGlyphs" class="gs">Sandro</text>
<text class="sbs" x="2896" y="2185" font-size="30" textLength="120" lengthAdjust="spacingAndGlyphs" stroke="#000" stroke-width="1.5">MASSI</text>
<text x="2629" y="2225" font-size="24" textLength="362" lengthAdjust="spacingAndGlyphs" class="cs">Ordine Ingegneri Prov. Ancona n.</text>
<rect x="2995" y="2207" width="33" height="22" fill="#000"/>
<text class="c" transform="translate(2631.0,2392.0) scale(0.649,1)" x="0" y="0" font-size="34.0" textLength="550.1" lengthAdjust="spacing">SASSOFERRATO agosto 1994</text>
<g transform="translate(2600,1720) scale(0.19544)" fill="none" stroke="#000" stroke-width="20" stroke-linecap="round" stroke-linejoin="round">
<path d="M95,715 C130,780 170,900 215,1050 C270,1230 340,1440 395,1600" stroke-width="18"/>
<path d="M160,870 C190,800 230,790 250,840 C270,900 290,990 320,1015 C340,1030 350,960 360,900 C380,820 420,800 460,790 C510,770 540,720 560,640" stroke-width="20"/>
<path d="M470,660 C420,680 410,790 450,810 C500,830 540,760 530,690 C525,660 500,650 470,660" stroke-width="20"/>
<path d="M530,440 C560,540 610,680 650,770" stroke-width="20"/>
<path d="M525,430 C600,440 690,455 760,460" stroke-width="18"/>
<path d="M820,510 C880,420 920,320 950,200" stroke-width="34"/>
<path d="M990,420 C930,440 920,520 980,520 C1030,515 1030,450 990,420 C1040,380 1100,340 1140,290 C1190,220 1170,145 1100,150 C1030,160 1020,240 1060,310 C1090,360 1120,400 1100,430" stroke-width="28"/>
<path d="M1310,60 C1230,80 1210,220 1250,320 C1280,380 1350,350 1400,260 C1440,180 1420,60 1340,60 C1300,62 1280,100 1290,150" stroke-width="26"/>
<path d="M930,1060 C960,1100 1030,1080 1060,1000 C1090,900 1080,730 1040,720 C1000,710 1000,860 1040,960 C1080,1000 1150,960 1230,860 C1320,760 1350,560 1310,520 C1270,500 1230,600 1270,700 C1300,780 1380,790 1490,760" stroke-width="16"/>
<path d="M845,950 L850,1100" stroke-width="40"/>
<path d="M660,960 C700,970 740,985 780,990" stroke-width="14"/>
<circle cx="815" cy="600" r="10" fill="#000" stroke="none"/>
</g>
<g transform="translate(2880,1650) scale(0.23705)" fill="none" stroke="#000" stroke-width="16" stroke-linecap="round" stroke-linejoin="round">
<path d="M45,70 C80,300 130,500 200,740"/>
<path d="M225,140 C190,95 130,120 125,200 C120,270 180,290 220,250 C240,220 235,160 225,140 M230,150 C235,220 250,290 275,335"/>
<path d="M300,200 C310,250 330,270 400,250"/>
<path d="M395,185 C410,400 450,700 510,990"/>
<path d="M225,690 C260,640 330,650 350,690 C360,730 300,740 280,720 C350,740 360,790 300,810"/>
<path d="M620,420 C580,370 520,400 520,470 C520,520 590,510 610,460 C615,500 625,560 650,600"/>
<path d="M700,270 C720,500 750,750 790,920"/>
<path d="M890,320 C850,280 815,320 820,400 C825,460 880,460 895,400 C900,450 910,510 945,530"/>
<path d="M990,290 C990,380 1010,440 1060,420 M1060,400 C1062,450 1065,490 1065,520"/>
<path d="M235,1050 C215,1000 220,940 260,935 C320,950 380,1100 450,1300 C500,1450 560,1580 600,1650"/>
<path d="M420,1200 C400,1100 420,1040 460,1060 C520,1090 560,1200 600,1350 C630,1470 650,1580 670,1650"/>
<path d="M540,1180 C560,1320 580,1450 600,1640"/>
<path d="M0,935 L50,912"/>
<circle cx="765" cy="1205" r="10" fill="#000" stroke="none"/>
</g>
<g transform="translate(2600,2120) scale(0.21062)" fill="none" stroke="#000" stroke-width="16" stroke-linecap="round" stroke-linejoin="round">
<path d="M545,715 C420,770 300,730 270,650 C250,570 290,500 330,470"/>
<path d="M690,125 C780,100 900,100 915,180 C930,280 860,380 820,450 C770,540 730,640 700,740"/>
<path d="M700,330 C640,360 600,500 610,640 C620,730 680,760 730,700 C780,620 790,400 740,280"/>
<path d="M800,500 C850,460 900,380 980,380 C1040,380 1030,450 1010,470 C1050,500 1100,440 1150,440 C1200,450 1230,520 1260,500 C1300,460 1330,440 1370,480 C1400,510 1440,520 1480,480"/>
</g>
<g transform="translate(3100,220) scale(0.071089)" fill="none" stroke="#000" stroke-width="72" stroke-linecap="round" stroke-linejoin="round">
<path d="M860,550 L750,355 C690,420 660,560 700,680 C760,820 880,870 1000,860 C1120,840 1170,720 1150,600 C1140,520 1110,460 1100,420"/>
<path d="M1100,440 C1140,540 1200,600 1300,650 C1400,720 1500,740 1560,700 C1640,640 1660,520 1630,430 C1610,380 1580,370 1540,380"/>
<path d="M900,880 C850,850 760,880 700,960 C640,1050 660,1200 760,1250 C860,1290 1000,1240 1100,1150 C1160,1100 1220,1040 1280,960"/>
<path d="M820,860 C950,960 1100,1080 1200,1140 C1300,1210 1380,1260 1440,1240 C1520,1200 1540,1120 1500,1040 C1460,980 1400,980 1340,1000"/>
</g>
<text class="sb" x="99" y="2395" font-size="23" textLength="1275" lengthAdjust="spacingAndGlyphs">Elaborato Planimetrico - Catasto dei Fabbricati - Situazione al 05/05/2025 - Comune di SASSOFERRATO(I461) - &lt; Foglio 95 Particella 910 &gt;</text>
<text class="g" x="945" y="2416" font-size="59" textLength="1404" lengthAdjust="spacingAndGlyphs">Pubblicazione ufficiale ad esclusivo uso personale - è vietata ogni</text>
<text class="g" x="717" y="2491" font-size="59" textLength="1861" lengthAdjust="spacingAndGlyphs">ripubblicazione o riproduzione a scopo commerciale - Aut. Min. Giustizia PDG 21/07/09</text>
<path d="M1638,2536 L1650,2536" stroke="#666" stroke-width="3"/>
<filter id="wm" x="-5%" y="-20%" width="110%" height="140%">
<feGaussianBlur in="SourceAlpha" stdDeviation="13" result="b"/>
<feOffset in="b" dx="1" dy="4" result="o"/>
<feComponentTransfer in="o" result="o2"><feFuncA type="linear" slope="0.32"/></feComponentTransfer>
<feComposite in="o2" in2="SourceAlpha" operator="out"/>
</filter>
<g filter="url(#wm)"><text x="682" y="2256" font-size="318" textLength="1926" lengthAdjust="spacingAndGlyphs" style="font-family:'Liberation Sans',sans-serif;fill:#000">www.astegiudiziarie.it</text></g>
<text x="682" y="2256" font-size="318" textLength="1926" lengthAdjust="spacingAndGlyphs" style="font-family:'Liberation Sans',sans-serif;fill:#fff;fill-opacity:0.25">www.astegiudiziarie.it</text>

</svg>
</body></html>
